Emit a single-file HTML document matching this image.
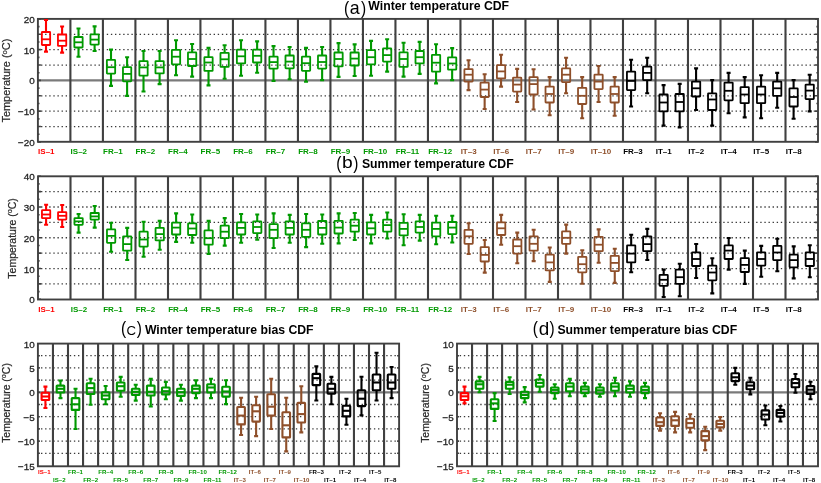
<!DOCTYPE html>
<html><head><meta charset="utf-8"><style>
html,body{margin:0;padding:0;background:#fff;}
body{width:821px;height:483px;overflow:hidden;}
svg{display:block;will-change:transform;}
</style></head><body>
<svg width="821" height="483" viewBox="0 0 821 483" font-family='"Liberation Sans", sans-serif'>
<rect width="821" height="483" fill="#fff"/>
<path d="M41.02 34.28H817.70" stroke="#383838" stroke-width="1.3" stroke-dasharray="1.35 2.76" fill="none"/>
<path d="M41.02 49.65H817.70" stroke="#383838" stroke-width="1.3" stroke-dasharray="1.35 2.76" fill="none"/>
<path d="M41.02 65.03H817.70" stroke="#383838" stroke-width="1.3" stroke-dasharray="1.35 2.76" fill="none"/>
<path d="M41.02 95.78H817.70" stroke="#383838" stroke-width="1.3" stroke-dasharray="1.35 2.76" fill="none"/>
<path d="M41.02 111.15H817.70" stroke="#383838" stroke-width="1.3" stroke-dasharray="1.35 2.76" fill="none"/>
<path d="M41.02 126.53H817.70" stroke="#383838" stroke-width="1.3" stroke-dasharray="1.35 2.76" fill="none"/>
<path d="M37.90 80.40H818.00" stroke="#7a7a7a" stroke-width="2.2"/>
<path d="M37.90 141.90h3M818.00 141.90h-3" stroke="#404040" stroke-width="1.6"/>
<path d="M37.90 126.53h3M818.00 126.53h-3" stroke="#404040" stroke-width="1.6"/>
<path d="M37.90 111.15h3M818.00 111.15h-3" stroke="#404040" stroke-width="1.6"/>
<path d="M37.90 95.78h3M818.00 95.78h-3" stroke="#404040" stroke-width="1.6"/>
<path d="M37.90 80.40h3M818.00 80.40h-3" stroke="#404040" stroke-width="1.6"/>
<path d="M37.90 65.03h3M818.00 65.03h-3" stroke="#404040" stroke-width="1.6"/>
<path d="M37.90 49.65h3M818.00 49.65h-3" stroke="#404040" stroke-width="1.6"/>
<path d="M37.90 34.28h3M818.00 34.28h-3" stroke="#404040" stroke-width="1.6"/>
<path d="M37.90 18.90h3M818.00 18.90h-3" stroke="#404040" stroke-width="1.6"/>
<path d="M37.90 134.21h1.6M818.00 134.21h-1.6" stroke="#404040" stroke-width="1.6"/>
<path d="M37.90 118.84h1.6M818.00 118.84h-1.6" stroke="#404040" stroke-width="1.6"/>
<path d="M37.90 103.46h1.6M818.00 103.46h-1.6" stroke="#404040" stroke-width="1.6"/>
<path d="M37.90 88.09h1.6M818.00 88.09h-1.6" stroke="#404040" stroke-width="1.6"/>
<path d="M37.90 72.71h1.6M818.00 72.71h-1.6" stroke="#404040" stroke-width="1.6"/>
<path d="M37.90 57.34h1.6M818.00 57.34h-1.6" stroke="#404040" stroke-width="1.6"/>
<path d="M37.90 41.96h1.6M818.00 41.96h-1.6" stroke="#404040" stroke-width="1.6"/>
<path d="M37.90 26.59h1.6M818.00 26.59h-1.6" stroke="#404040" stroke-width="1.6"/>
<path d="M70.40 18.90V141.80M102.91 18.90V141.80M135.41 18.90V141.80M167.92 18.90V141.80M200.42 18.90V141.80M232.93 18.90V141.80M265.43 18.90V141.80M297.93 18.90V141.80M330.44 18.90V141.80M362.94 18.90V141.80M395.45 18.90V141.80M427.95 18.90V141.80M460.45 18.90V141.80M492.96 18.90V141.80M525.46 18.90V141.80M557.97 18.90V141.80M590.47 18.90V141.80M622.98 18.90V141.80M655.48 18.90V141.80M687.98 18.90V141.80M720.49 18.90V141.80M752.99 18.90V141.80M785.50 18.90V141.80" stroke="#404040" stroke-width="2.1"/>
<rect x="37.90" y="18.90" width="780.10" height="122.90" fill="none" stroke="#404040" stroke-width="1.9"/>
<path d="M46.00 20.00V32.00M46.00 45.00V51.60" stroke="#ff0000" stroke-width="2.1" fill="none"/>
<path d="M44.00 20.00H48.00M44.00 51.60H48.00" stroke="#ff0000" stroke-width="2.1" fill="none"/>
<rect x="41.85" y="32.00" width="8.30" height="13.00" fill="none" stroke="#ff0000" stroke-width="1.8" stroke-linejoin="round" rx="0.5"/>
<path d="M41.85 39.30H50.15" stroke="#ff0000" stroke-width="1.8"/>
<path d="M62.10 26.50V34.50M62.10 45.90V52.60" stroke="#ff0000" stroke-width="2.1" fill="none"/>
<path d="M60.10 26.50H64.10M60.10 52.60H64.10" stroke="#ff0000" stroke-width="2.1" fill="none"/>
<rect x="57.95" y="34.50" width="8.30" height="11.40" fill="none" stroke="#ff0000" stroke-width="1.8" stroke-linejoin="round" rx="0.5"/>
<path d="M57.95 40.70H66.25" stroke="#ff0000" stroke-width="1.8"/>
<path d="M78.50 28.50V37.00M78.50 47.50V56.70" stroke="#009900" stroke-width="2.1" fill="none"/>
<path d="M76.50 28.50H80.50M76.50 56.70H80.50" stroke="#009900" stroke-width="2.1" fill="none"/>
<rect x="74.35" y="37.00" width="8.30" height="10.50" fill="none" stroke="#009900" stroke-width="1.8" stroke-linejoin="round" rx="0.5"/>
<path d="M74.35 42.30H82.65" stroke="#009900" stroke-width="1.8"/>
<path d="M94.60 26.40V34.30M94.60 44.60V51.00" stroke="#009900" stroke-width="2.1" fill="none"/>
<path d="M92.60 26.40H96.60M92.60 51.00H96.60" stroke="#009900" stroke-width="2.1" fill="none"/>
<rect x="90.45" y="34.30" width="8.30" height="10.30" fill="none" stroke="#009900" stroke-width="1.8" stroke-linejoin="round" rx="0.5"/>
<path d="M90.45 39.60H98.75" stroke="#009900" stroke-width="1.8"/>
<path d="M111.01 49.65V59.90M111.01 73.60V85.90" stroke="#009900" stroke-width="2.1" fill="none"/>
<path d="M109.01 49.65H113.01M109.01 85.90H113.01" stroke="#009900" stroke-width="2.1" fill="none"/>
<rect x="106.86" y="59.90" width="8.30" height="13.70" fill="none" stroke="#009900" stroke-width="1.8" stroke-linejoin="round" rx="0.5"/>
<path d="M106.86 67.20H115.16" stroke="#009900" stroke-width="1.8"/>
<path d="M127.11 57.20V67.20M127.11 81.30V95.90" stroke="#009900" stroke-width="2.1" fill="none"/>
<path d="M125.11 57.20H129.11M125.11 95.90H129.11" stroke="#009900" stroke-width="2.1" fill="none"/>
<rect x="122.96" y="67.20" width="8.30" height="14.10" fill="none" stroke="#009900" stroke-width="1.8" stroke-linejoin="round" rx="0.5"/>
<path d="M122.96 73.90H131.26" stroke="#009900" stroke-width="1.8"/>
<path d="M143.51 51.00V61.10M143.51 75.70V91.50" stroke="#009900" stroke-width="2.1" fill="none"/>
<path d="M141.51 51.00H145.51M141.51 91.50H145.51" stroke="#009900" stroke-width="2.1" fill="none"/>
<rect x="139.36" y="61.10" width="8.30" height="14.60" fill="none" stroke="#009900" stroke-width="1.8" stroke-linejoin="round" rx="0.5"/>
<path d="M139.36 67.40H147.66" stroke="#009900" stroke-width="1.8"/>
<path d="M159.61 51.00V61.10M159.61 73.40V84.10" stroke="#009900" stroke-width="2.1" fill="none"/>
<path d="M157.61 51.00H161.61M157.61 84.10H161.61" stroke="#009900" stroke-width="2.1" fill="none"/>
<rect x="155.46" y="61.10" width="8.30" height="12.30" fill="none" stroke="#009900" stroke-width="1.8" stroke-linejoin="round" rx="0.5"/>
<path d="M155.46 67.40H163.76" stroke="#009900" stroke-width="1.8"/>
<path d="M176.02 40.20V49.80M176.02 64.30V75.30" stroke="#009900" stroke-width="2.1" fill="none"/>
<path d="M174.02 40.20H178.02M174.02 75.30H178.02" stroke="#009900" stroke-width="2.1" fill="none"/>
<rect x="171.87" y="49.80" width="8.30" height="14.50" fill="none" stroke="#009900" stroke-width="1.8" stroke-linejoin="round" rx="0.5"/>
<path d="M171.87 56.70H180.17" stroke="#009900" stroke-width="1.8"/>
<path d="M192.12 44.00V52.30M192.12 66.00V76.60" stroke="#009900" stroke-width="2.1" fill="none"/>
<path d="M190.12 44.00H194.12M190.12 76.60H194.12" stroke="#009900" stroke-width="2.1" fill="none"/>
<rect x="187.97" y="52.30" width="8.30" height="13.70" fill="none" stroke="#009900" stroke-width="1.8" stroke-linejoin="round" rx="0.5"/>
<path d="M187.97 59.00H196.27" stroke="#009900" stroke-width="1.8"/>
<path d="M208.52 47.90V57.20M208.52 70.90V85.40" stroke="#009900" stroke-width="2.1" fill="none"/>
<path d="M206.52 47.90H210.52M206.52 85.40H210.52" stroke="#009900" stroke-width="2.1" fill="none"/>
<rect x="204.37" y="57.20" width="8.30" height="13.70" fill="none" stroke="#009900" stroke-width="1.8" stroke-linejoin="round" rx="0.5"/>
<path d="M204.37 62.50H212.67" stroke="#009900" stroke-width="1.8"/>
<path d="M224.62 45.30V52.80M224.62 66.90V78.70" stroke="#009900" stroke-width="2.1" fill="none"/>
<path d="M222.62 45.30H226.62M222.62 78.70H226.62" stroke="#009900" stroke-width="2.1" fill="none"/>
<rect x="220.47" y="52.80" width="8.30" height="14.10" fill="none" stroke="#009900" stroke-width="1.8" stroke-linejoin="round" rx="0.5"/>
<path d="M220.47 59.30H228.77" stroke="#009900" stroke-width="1.8"/>
<path d="M241.03 40.20V49.65M241.03 63.40V75.70" stroke="#009900" stroke-width="2.1" fill="none"/>
<path d="M239.03 40.20H243.03M239.03 75.70H243.03" stroke="#009900" stroke-width="2.1" fill="none"/>
<rect x="236.88" y="49.65" width="8.30" height="13.75" fill="none" stroke="#009900" stroke-width="1.8" stroke-linejoin="round" rx="0.5"/>
<path d="M236.88 56.30H245.18" stroke="#009900" stroke-width="1.8"/>
<path d="M257.13 41.40V49.65M257.13 62.50V72.70" stroke="#009900" stroke-width="2.1" fill="none"/>
<path d="M255.13 41.40H259.13M255.13 72.70H259.13" stroke="#009900" stroke-width="2.1" fill="none"/>
<rect x="252.98" y="49.65" width="8.30" height="12.85" fill="none" stroke="#009900" stroke-width="1.8" stroke-linejoin="round" rx="0.5"/>
<path d="M252.98 55.80H261.28" stroke="#009900" stroke-width="1.8"/>
<path d="M273.53 46.10V56.70M273.53 68.60V81.00" stroke="#009900" stroke-width="2.1" fill="none"/>
<path d="M271.53 46.10H275.53M271.53 81.00H275.53" stroke="#009900" stroke-width="2.1" fill="none"/>
<rect x="269.38" y="56.70" width="8.30" height="11.90" fill="none" stroke="#009900" stroke-width="1.8" stroke-linejoin="round" rx="0.5"/>
<path d="M269.38 62.10H277.68" stroke="#009900" stroke-width="1.8"/>
<path d="M289.63 47.00V55.50M289.63 68.30V79.20" stroke="#009900" stroke-width="2.1" fill="none"/>
<path d="M287.63 47.00H291.63M287.63 79.20H291.63" stroke="#009900" stroke-width="2.1" fill="none"/>
<rect x="285.48" y="55.50" width="8.30" height="12.80" fill="none" stroke="#009900" stroke-width="1.8" stroke-linejoin="round" rx="0.5"/>
<path d="M285.48 61.60H293.78" stroke="#009900" stroke-width="1.8"/>
<path d="M306.03 47.90V56.70M306.03 70.80V81.80" stroke="#009900" stroke-width="2.1" fill="none"/>
<path d="M304.03 47.90H308.03M304.03 81.80H308.03" stroke="#009900" stroke-width="2.1" fill="none"/>
<rect x="301.88" y="56.70" width="8.30" height="14.10" fill="none" stroke="#009900" stroke-width="1.8" stroke-linejoin="round" rx="0.5"/>
<path d="M301.88 63.20H310.18" stroke="#009900" stroke-width="1.8"/>
<path d="M322.13 47.00V55.50M322.13 68.60V80.10" stroke="#009900" stroke-width="2.1" fill="none"/>
<path d="M320.13 47.00H324.13M320.13 80.10H324.13" stroke="#009900" stroke-width="2.1" fill="none"/>
<rect x="317.98" y="55.50" width="8.30" height="13.10" fill="none" stroke="#009900" stroke-width="1.8" stroke-linejoin="round" rx="0.5"/>
<path d="M317.98 62.00H326.28" stroke="#009900" stroke-width="1.8"/>
<path d="M338.54 43.10V52.50M338.54 66.40V76.90" stroke="#009900" stroke-width="2.1" fill="none"/>
<path d="M336.54 43.10H340.54M336.54 76.90H340.54" stroke="#009900" stroke-width="2.1" fill="none"/>
<rect x="334.39" y="52.50" width="8.30" height="13.90" fill="none" stroke="#009900" stroke-width="1.8" stroke-linejoin="round" rx="0.5"/>
<path d="M334.39 59.00H342.69" stroke="#009900" stroke-width="1.8"/>
<path d="M354.64 44.40V52.50M354.64 65.50V76.00" stroke="#009900" stroke-width="2.1" fill="none"/>
<path d="M352.64 44.40H356.64M352.64 76.00H356.64" stroke="#009900" stroke-width="2.1" fill="none"/>
<rect x="350.49" y="52.50" width="8.30" height="13.00" fill="none" stroke="#009900" stroke-width="1.8" stroke-linejoin="round" rx="0.5"/>
<path d="M350.49 58.60H358.79" stroke="#009900" stroke-width="1.8"/>
<path d="M371.04 40.90V50.20M371.04 64.30V75.70" stroke="#009900" stroke-width="2.1" fill="none"/>
<path d="M369.04 40.90H373.04M369.04 75.70H373.04" stroke="#009900" stroke-width="2.1" fill="none"/>
<rect x="366.89" y="50.20" width="8.30" height="14.10" fill="none" stroke="#009900" stroke-width="1.8" stroke-linejoin="round" rx="0.5"/>
<path d="M366.89 57.20H375.19" stroke="#009900" stroke-width="1.8"/>
<path d="M387.14 39.30V48.40M387.14 61.60V71.60" stroke="#009900" stroke-width="2.1" fill="none"/>
<path d="M385.14 39.30H389.14M385.14 71.60H389.14" stroke="#009900" stroke-width="2.1" fill="none"/>
<rect x="382.99" y="48.40" width="8.30" height="13.20" fill="none" stroke="#009900" stroke-width="1.8" stroke-linejoin="round" rx="0.5"/>
<path d="M382.99 55.10H391.29" stroke="#009900" stroke-width="1.8"/>
<path d="M403.55 42.80V52.30M403.55 66.90V76.60" stroke="#009900" stroke-width="2.1" fill="none"/>
<path d="M401.55 42.80H405.55M401.55 76.60H405.55" stroke="#009900" stroke-width="2.1" fill="none"/>
<rect x="399.40" y="52.30" width="8.30" height="14.60" fill="none" stroke="#009900" stroke-width="1.8" stroke-linejoin="round" rx="0.5"/>
<path d="M399.40 59.00H407.70" stroke="#009900" stroke-width="1.8"/>
<path d="M419.65 41.90V51.00M419.65 63.40V73.90" stroke="#009900" stroke-width="2.1" fill="none"/>
<path d="M417.65 41.90H421.65M417.65 73.90H421.65" stroke="#009900" stroke-width="2.1" fill="none"/>
<rect x="415.50" y="51.00" width="8.30" height="12.40" fill="none" stroke="#009900" stroke-width="1.8" stroke-linejoin="round" rx="0.5"/>
<path d="M415.50 57.20H423.80" stroke="#009900" stroke-width="1.8"/>
<path d="M436.05 44.30V54.80M436.05 71.70V83.40" stroke="#009900" stroke-width="2.1" fill="none"/>
<path d="M434.05 44.30H438.05M434.05 83.40H438.05" stroke="#009900" stroke-width="2.1" fill="none"/>
<rect x="431.90" y="54.80" width="8.30" height="16.90" fill="none" stroke="#009900" stroke-width="1.8" stroke-linejoin="round" rx="0.5"/>
<path d="M431.90 62.70H440.20" stroke="#009900" stroke-width="1.8"/>
<path d="M452.15 48.10V57.30M452.15 69.70V80.10" stroke="#009900" stroke-width="2.1" fill="none"/>
<path d="M450.15 48.10H454.15M450.15 80.10H454.15" stroke="#009900" stroke-width="2.1" fill="none"/>
<rect x="448.00" y="57.30" width="8.30" height="12.40" fill="none" stroke="#009900" stroke-width="1.8" stroke-linejoin="round" rx="0.5"/>
<path d="M448.00 63.50H456.30" stroke="#009900" stroke-width="1.8"/>
<path d="M468.55 60.20V69.20M468.55 81.60V90.10" stroke="#8e4f2a" stroke-width="2.1" fill="none"/>
<path d="M466.55 60.20H470.55M466.55 90.10H470.55" stroke="#8e4f2a" stroke-width="2.1" fill="none"/>
<rect x="464.40" y="69.20" width="8.30" height="12.40" fill="none" stroke="#8e4f2a" stroke-width="1.8" stroke-linejoin="round" rx="0.5"/>
<path d="M464.40 74.70H472.70" stroke="#8e4f2a" stroke-width="1.8"/>
<path d="M484.65 74.20V82.60M484.65 97.00V109.00" stroke="#8e4f2a" stroke-width="2.1" fill="none"/>
<path d="M482.65 74.20H486.65M482.65 109.00H486.65" stroke="#8e4f2a" stroke-width="2.1" fill="none"/>
<rect x="480.50" y="82.60" width="8.30" height="14.40" fill="none" stroke="#8e4f2a" stroke-width="1.8" stroke-linejoin="round" rx="0.5"/>
<path d="M480.50 89.60H488.80" stroke="#8e4f2a" stroke-width="1.8"/>
<path d="M501.06 54.80V65.20M501.06 78.40V86.60" stroke="#8e4f2a" stroke-width="2.1" fill="none"/>
<path d="M499.06 54.80H503.06M499.06 86.60H503.06" stroke="#8e4f2a" stroke-width="2.1" fill="none"/>
<rect x="496.91" y="65.20" width="8.30" height="13.20" fill="none" stroke="#8e4f2a" stroke-width="1.8" stroke-linejoin="round" rx="0.5"/>
<path d="M496.91 71.40H505.21" stroke="#8e4f2a" stroke-width="1.8"/>
<path d="M517.16 68.90V77.60M517.16 91.60V102.00" stroke="#8e4f2a" stroke-width="2.1" fill="none"/>
<path d="M515.16 68.90H519.16M515.16 102.00H519.16" stroke="#8e4f2a" stroke-width="2.1" fill="none"/>
<rect x="513.01" y="77.60" width="8.30" height="14.00" fill="none" stroke="#8e4f2a" stroke-width="1.8" stroke-linejoin="round" rx="0.5"/>
<path d="M513.01 84.60H521.31" stroke="#8e4f2a" stroke-width="1.8"/>
<path d="M533.56 69.20V77.10M533.56 94.50V109.50" stroke="#8e4f2a" stroke-width="2.1" fill="none"/>
<path d="M531.56 69.20H535.56M531.56 109.50H535.56" stroke="#8e4f2a" stroke-width="2.1" fill="none"/>
<rect x="529.41" y="77.10" width="8.30" height="17.40" fill="none" stroke="#8e4f2a" stroke-width="1.8" stroke-linejoin="round" rx="0.5"/>
<path d="M529.41 84.10H537.71" stroke="#8e4f2a" stroke-width="1.8"/>
<path d="M549.66 77.10V86.60M549.66 102.50V115.20" stroke="#8e4f2a" stroke-width="2.1" fill="none"/>
<path d="M547.66 77.10H551.66M547.66 115.20H551.66" stroke="#8e4f2a" stroke-width="2.1" fill="none"/>
<rect x="545.51" y="86.60" width="8.30" height="15.90" fill="none" stroke="#8e4f2a" stroke-width="1.8" stroke-linejoin="round" rx="0.5"/>
<path d="M545.51 94.00H553.81" stroke="#8e4f2a" stroke-width="1.8"/>
<path d="M566.07 57.80V68.40M566.07 82.10V93.30" stroke="#8e4f2a" stroke-width="2.1" fill="none"/>
<path d="M564.07 57.80H568.07M564.07 93.30H568.07" stroke="#8e4f2a" stroke-width="2.1" fill="none"/>
<rect x="561.92" y="68.40" width="8.30" height="13.70" fill="none" stroke="#8e4f2a" stroke-width="1.8" stroke-linejoin="round" rx="0.5"/>
<path d="M561.92 74.70H570.22" stroke="#8e4f2a" stroke-width="1.8"/>
<path d="M582.17 77.10V87.80M582.17 104.00V118.20" stroke="#8e4f2a" stroke-width="2.1" fill="none"/>
<path d="M580.17 77.10H584.17M580.17 118.20H584.17" stroke="#8e4f2a" stroke-width="2.1" fill="none"/>
<rect x="578.02" y="87.80" width="8.30" height="16.20" fill="none" stroke="#8e4f2a" stroke-width="1.8" stroke-linejoin="round" rx="0.5"/>
<path d="M578.02 95.80H586.32" stroke="#8e4f2a" stroke-width="1.8"/>
<path d="M598.57 66.00V74.70M598.57 89.10V102.00" stroke="#8e4f2a" stroke-width="2.1" fill="none"/>
<path d="M596.57 66.00H600.57M596.57 102.00H600.57" stroke="#8e4f2a" stroke-width="2.1" fill="none"/>
<rect x="594.42" y="74.70" width="8.30" height="14.40" fill="none" stroke="#8e4f2a" stroke-width="1.8" stroke-linejoin="round" rx="0.5"/>
<path d="M594.42 81.60H602.72" stroke="#8e4f2a" stroke-width="1.8"/>
<path d="M614.67 77.10V86.60M614.67 102.50V115.70" stroke="#8e4f2a" stroke-width="2.1" fill="none"/>
<path d="M612.67 77.10H616.67M612.67 115.70H616.67" stroke="#8e4f2a" stroke-width="2.1" fill="none"/>
<rect x="610.52" y="86.60" width="8.30" height="15.90" fill="none" stroke="#8e4f2a" stroke-width="1.8" stroke-linejoin="round" rx="0.5"/>
<path d="M610.52 94.00H618.82" stroke="#8e4f2a" stroke-width="1.8"/>
<path d="M631.08 59.70V71.70M631.08 90.10V106.50" stroke="#000000" stroke-width="2.1" fill="none"/>
<path d="M629.08 59.70H633.08M629.08 106.50H633.08" stroke="#000000" stroke-width="2.1" fill="none"/>
<rect x="626.93" y="71.70" width="8.30" height="18.40" fill="none" stroke="#000000" stroke-width="1.8" stroke-linejoin="round" rx="0.5"/>
<path d="M626.93 80.90H635.23" stroke="#000000" stroke-width="1.8"/>
<path d="M647.18 57.80V66.70M647.18 80.10V93.30" stroke="#000000" stroke-width="2.1" fill="none"/>
<path d="M645.18 57.80H649.18M645.18 93.30H649.18" stroke="#000000" stroke-width="2.1" fill="none"/>
<rect x="643.03" y="66.70" width="8.30" height="13.40" fill="none" stroke="#000000" stroke-width="1.8" stroke-linejoin="round" rx="0.5"/>
<path d="M643.03 72.90H651.33" stroke="#000000" stroke-width="1.8"/>
<path d="M663.58 85.10V94.50M663.58 111.40V125.60" stroke="#000000" stroke-width="2.1" fill="none"/>
<path d="M661.58 85.10H665.58M661.58 125.60H665.58" stroke="#000000" stroke-width="2.1" fill="none"/>
<rect x="659.43" y="94.50" width="8.30" height="16.90" fill="none" stroke="#000000" stroke-width="1.8" stroke-linejoin="round" rx="0.5"/>
<path d="M659.43 102.50H667.73" stroke="#000000" stroke-width="1.8"/>
<path d="M679.68 83.90V94.00M679.68 111.40V127.40" stroke="#000000" stroke-width="2.1" fill="none"/>
<path d="M677.68 83.90H681.68M677.68 127.40H681.68" stroke="#000000" stroke-width="2.1" fill="none"/>
<rect x="675.53" y="94.00" width="8.30" height="17.40" fill="none" stroke="#000000" stroke-width="1.8" stroke-linejoin="round" rx="0.5"/>
<path d="M675.53 102.00H683.83" stroke="#000000" stroke-width="1.8"/>
<path d="M696.08 68.40V81.60M696.08 96.50V110.00" stroke="#000000" stroke-width="2.1" fill="none"/>
<path d="M694.08 68.40H698.08M694.08 110.00H698.08" stroke="#000000" stroke-width="2.1" fill="none"/>
<rect x="691.93" y="81.60" width="8.30" height="14.90" fill="none" stroke="#000000" stroke-width="1.8" stroke-linejoin="round" rx="0.5"/>
<path d="M691.93 88.30H700.23" stroke="#000000" stroke-width="1.8"/>
<path d="M712.18 80.10V93.30M712.18 110.00V125.60" stroke="#000000" stroke-width="2.1" fill="none"/>
<path d="M710.18 80.10H714.18M710.18 125.60H714.18" stroke="#000000" stroke-width="2.1" fill="none"/>
<rect x="708.03" y="93.30" width="8.30" height="16.70" fill="none" stroke="#000000" stroke-width="1.8" stroke-linejoin="round" rx="0.5"/>
<path d="M708.03 99.50H716.33" stroke="#000000" stroke-width="1.8"/>
<path d="M728.59 72.90V82.60M728.59 100.30V113.20" stroke="#000000" stroke-width="2.1" fill="none"/>
<path d="M726.59 72.90H730.59M726.59 113.20H730.59" stroke="#000000" stroke-width="2.1" fill="none"/>
<rect x="724.44" y="82.60" width="8.30" height="17.70" fill="none" stroke="#000000" stroke-width="1.8" stroke-linejoin="round" rx="0.5"/>
<path d="M724.44 90.80H732.74" stroke="#000000" stroke-width="1.8"/>
<path d="M744.69 77.10V87.10M744.69 103.20V117.40" stroke="#000000" stroke-width="2.1" fill="none"/>
<path d="M742.69 77.10H746.69M742.69 117.40H746.69" stroke="#000000" stroke-width="2.1" fill="none"/>
<rect x="740.54" y="87.10" width="8.30" height="16.10" fill="none" stroke="#000000" stroke-width="1.8" stroke-linejoin="round" rx="0.5"/>
<path d="M740.54 94.50H748.84" stroke="#000000" stroke-width="1.8"/>
<path d="M761.09 75.20V86.60M761.09 103.20V118.20" stroke="#000000" stroke-width="2.1" fill="none"/>
<path d="M759.09 75.20H763.09M759.09 118.20H763.09" stroke="#000000" stroke-width="2.1" fill="none"/>
<rect x="756.94" y="86.60" width="8.30" height="16.60" fill="none" stroke="#000000" stroke-width="1.8" stroke-linejoin="round" rx="0.5"/>
<path d="M756.94 94.50H765.24" stroke="#000000" stroke-width="1.8"/>
<path d="M777.19 72.90V81.60M777.19 95.80V107.70" stroke="#000000" stroke-width="2.1" fill="none"/>
<path d="M775.19 72.90H779.19M775.19 107.70H779.19" stroke="#000000" stroke-width="2.1" fill="none"/>
<rect x="773.04" y="81.60" width="8.30" height="14.20" fill="none" stroke="#000000" stroke-width="1.8" stroke-linejoin="round" rx="0.5"/>
<path d="M773.04 88.30H781.34" stroke="#000000" stroke-width="1.8"/>
<path d="M793.60 80.10V88.30M793.60 106.50V118.70" stroke="#000000" stroke-width="2.1" fill="none"/>
<path d="M791.60 80.10H795.60M791.60 118.70H795.60" stroke="#000000" stroke-width="2.1" fill="none"/>
<rect x="789.45" y="88.30" width="8.30" height="18.20" fill="none" stroke="#000000" stroke-width="1.8" stroke-linejoin="round" rx="0.5"/>
<path d="M789.45 97.00H797.75" stroke="#000000" stroke-width="1.8"/>
<path d="M809.70 74.70V84.60M809.70 99.10V111.40" stroke="#000000" stroke-width="2.1" fill="none"/>
<path d="M807.70 74.70H811.70M807.70 111.40H811.70" stroke="#000000" stroke-width="2.1" fill="none"/>
<rect x="805.55" y="84.60" width="8.30" height="14.50" fill="none" stroke="#000000" stroke-width="1.8" stroke-linejoin="round" rx="0.5"/>
<path d="M805.55 90.60H813.85" stroke="#000000" stroke-width="1.8"/>
<text x="34.80" y="22.90" text-anchor="end" font-size="9.9" fill="#262626" stroke="#262626" stroke-width="0.3">20</text>
<text x="34.80" y="53.65" text-anchor="end" font-size="9.9" fill="#262626" stroke="#262626" stroke-width="0.3">10</text>
<text x="34.80" y="84.40" text-anchor="end" font-size="9.9" fill="#262626" stroke="#262626" stroke-width="0.3">0</text>
<text x="34.80" y="115.15" text-anchor="end" font-size="9.9" fill="#262626" stroke="#262626" stroke-width="0.3">−10</text>
<text x="34.80" y="145.90" text-anchor="end" font-size="9.9" fill="#262626" stroke="#262626" stroke-width="0.3">−20</text>
<text transform="translate(10.30 80.60) rotate(-90)" text-anchor="middle" font-size="10.95" fill="#2a2a2a" stroke="#2a2a2a" stroke-width="0.22">Temperature (<tspan font-size="7.66" dy="-3.5">o</tspan><tspan dy="3.5">C)</tspan></text>
<text x="368.3" y="10.0" font-size="12.25" font-weight="bold" fill="#000">Winter temperature CDF</text>
<text x="38.10" y="154.1" font-size="8.0" font-weight="bold" fill="#ff0000">IS–1</text>
<text x="70.60" y="154.1" font-size="8.0" font-weight="bold" fill="#009900">IS–2</text>
<text x="103.11" y="154.1" font-size="8.0" font-weight="bold" fill="#009900">FR–1</text>
<text x="135.61" y="154.1" font-size="8.0" font-weight="bold" fill="#009900">FR–2</text>
<text x="168.12" y="154.1" font-size="8.0" font-weight="bold" fill="#009900">FR–4</text>
<text x="200.62" y="154.1" font-size="8.0" font-weight="bold" fill="#009900">FR–5</text>
<text x="233.13" y="154.1" font-size="8.0" font-weight="bold" fill="#009900">FR–6</text>
<text x="265.63" y="154.1" font-size="8.0" font-weight="bold" fill="#009900">FR–7</text>
<text x="298.13" y="154.1" font-size="8.0" font-weight="bold" fill="#009900">FR–8</text>
<text x="330.64" y="154.1" font-size="8.0" font-weight="bold" fill="#009900">FR–9</text>
<text x="363.14" y="154.1" font-size="8.0" font-weight="bold" fill="#009900">FR–10</text>
<text x="395.65" y="154.1" font-size="8.0" font-weight="bold" fill="#009900">FR–11</text>
<text x="428.15" y="154.1" font-size="8.0" font-weight="bold" fill="#009900">FR–12</text>
<text x="460.65" y="154.1" font-size="8.0" font-weight="bold" fill="#8e4f2a">IT–3</text>
<text x="493.16" y="154.1" font-size="8.0" font-weight="bold" fill="#8e4f2a">IT–6</text>
<text x="525.66" y="154.1" font-size="8.0" font-weight="bold" fill="#8e4f2a">IT–7</text>
<text x="558.17" y="154.1" font-size="8.0" font-weight="bold" fill="#8e4f2a">IT–9</text>
<text x="590.67" y="154.1" font-size="8.0" font-weight="bold" fill="#8e4f2a">IT–10</text>
<text x="623.18" y="154.1" font-size="8.0" font-weight="bold" fill="#000">FR–3</text>
<text x="655.68" y="154.1" font-size="8.0" font-weight="bold" fill="#000">IT–1</text>
<text x="688.18" y="154.1" font-size="8.0" font-weight="bold" fill="#000">IT–2</text>
<text x="720.69" y="154.1" font-size="8.0" font-weight="bold" fill="#000">IT–4</text>
<text x="753.19" y="154.1" font-size="8.0" font-weight="bold" fill="#000">IT–5</text>
<text x="785.70" y="154.1" font-size="8.0" font-weight="bold" fill="#000">IT–8</text>
<path d="M41.02 283.92H817.70" stroke="#383838" stroke-width="1.3" stroke-dasharray="1.35 2.76" fill="none"/>
<path d="M41.02 268.53H817.70" stroke="#383838" stroke-width="1.3" stroke-dasharray="1.35 2.76" fill="none"/>
<path d="M41.02 253.15H817.70" stroke="#383838" stroke-width="1.3" stroke-dasharray="1.35 2.76" fill="none"/>
<path d="M41.02 237.76H817.70" stroke="#383838" stroke-width="1.3" stroke-dasharray="1.35 2.76" fill="none"/>
<path d="M41.02 222.38H817.70" stroke="#383838" stroke-width="1.3" stroke-dasharray="1.35 2.76" fill="none"/>
<path d="M41.02 206.99H817.70" stroke="#383838" stroke-width="1.3" stroke-dasharray="1.35 2.76" fill="none"/>
<path d="M41.02 191.61H817.70" stroke="#383838" stroke-width="1.3" stroke-dasharray="1.35 2.76" fill="none"/>
<path d="M38.00 299.30h3M818.00 299.30h-3" stroke="#404040" stroke-width="1.6"/>
<path d="M38.00 283.92h3M818.00 283.92h-3" stroke="#404040" stroke-width="1.6"/>
<path d="M38.00 268.53h3M818.00 268.53h-3" stroke="#404040" stroke-width="1.6"/>
<path d="M38.00 253.15h3M818.00 253.15h-3" stroke="#404040" stroke-width="1.6"/>
<path d="M38.00 237.76h3M818.00 237.76h-3" stroke="#404040" stroke-width="1.6"/>
<path d="M38.00 222.38h3M818.00 222.38h-3" stroke="#404040" stroke-width="1.6"/>
<path d="M38.00 206.99h3M818.00 206.99h-3" stroke="#404040" stroke-width="1.6"/>
<path d="M38.00 191.61h3M818.00 191.61h-3" stroke="#404040" stroke-width="1.6"/>
<path d="M38.00 176.22h3M818.00 176.22h-3" stroke="#404040" stroke-width="1.6"/>
<path d="M38.00 291.61h1.6M818.00 291.61h-1.6" stroke="#404040" stroke-width="1.6"/>
<path d="M38.00 276.22h1.6M818.00 276.22h-1.6" stroke="#404040" stroke-width="1.6"/>
<path d="M38.00 260.84h1.6M818.00 260.84h-1.6" stroke="#404040" stroke-width="1.6"/>
<path d="M38.00 245.45h1.6M818.00 245.45h-1.6" stroke="#404040" stroke-width="1.6"/>
<path d="M38.00 230.07h1.6M818.00 230.07h-1.6" stroke="#404040" stroke-width="1.6"/>
<path d="M38.00 214.68h1.6M818.00 214.68h-1.6" stroke="#404040" stroke-width="1.6"/>
<path d="M38.00 199.30h1.6M818.00 199.30h-1.6" stroke="#404040" stroke-width="1.6"/>
<path d="M38.00 183.91h1.6M818.00 183.91h-1.6" stroke="#404040" stroke-width="1.6"/>
<path d="M70.50 176.30V299.50M103.00 176.30V299.50M135.50 176.30V299.50M168.00 176.30V299.50M200.50 176.30V299.50M233.00 176.30V299.50M265.50 176.30V299.50M298.00 176.30V299.50M330.50 176.30V299.50M363.00 176.30V299.50M395.50 176.30V299.50M428.00 176.30V299.50M460.50 176.30V299.50M493.00 176.30V299.50M525.50 176.30V299.50M558.00 176.30V299.50M590.50 176.30V299.50M623.00 176.30V299.50M655.50 176.30V299.50M688.00 176.30V299.50M720.50 176.30V299.50M753.00 176.30V299.50M785.50 176.30V299.50" stroke="#404040" stroke-width="2.1"/>
<rect x="38.00" y="176.30" width="780.00" height="123.20" fill="none" stroke="#404040" stroke-width="1.9"/>
<path d="M46.10 204.70V210.20M46.10 218.20V224.80" stroke="#ff0000" stroke-width="2.1" fill="none"/>
<path d="M44.10 204.70H48.10M44.10 224.80H48.10" stroke="#ff0000" stroke-width="2.1" fill="none"/>
<rect x="41.95" y="210.20" width="8.30" height="8.00" fill="none" stroke="#ff0000" stroke-width="1.8" stroke-linejoin="round" rx="0.5"/>
<path d="M41.95 214.50H50.25" stroke="#ff0000" stroke-width="1.8"/>
<path d="M62.20 205.00V212.10M62.20 219.60V227.00" stroke="#ff0000" stroke-width="2.1" fill="none"/>
<path d="M60.20 205.00H64.20M60.20 227.00H64.20" stroke="#ff0000" stroke-width="2.1" fill="none"/>
<rect x="58.05" y="212.10" width="8.30" height="7.50" fill="none" stroke="#ff0000" stroke-width="1.8" stroke-linejoin="round" rx="0.5"/>
<path d="M58.05 215.80H66.35" stroke="#ff0000" stroke-width="1.8"/>
<path d="M78.60 214.00V218.10M78.60 224.80V232.60" stroke="#009900" stroke-width="2.1" fill="none"/>
<path d="M76.60 214.00H80.60M76.60 232.60H80.60" stroke="#009900" stroke-width="2.1" fill="none"/>
<rect x="74.45" y="218.10" width="8.30" height="6.70" fill="none" stroke="#009900" stroke-width="1.8" stroke-linejoin="round" rx="0.5"/>
<path d="M74.45 221.40H82.75" stroke="#009900" stroke-width="1.8"/>
<path d="M94.70 206.00V213.00M94.70 219.60V227.60" stroke="#009900" stroke-width="2.1" fill="none"/>
<path d="M92.70 206.00H96.70M92.70 227.60H96.70" stroke="#009900" stroke-width="2.1" fill="none"/>
<rect x="90.55" y="213.00" width="8.30" height="6.60" fill="none" stroke="#009900" stroke-width="1.8" stroke-linejoin="round" rx="0.5"/>
<path d="M90.55 216.40H98.85" stroke="#009900" stroke-width="1.8"/>
<path d="M111.11 222.70V229.40M111.11 242.80V251.80" stroke="#009900" stroke-width="2.1" fill="none"/>
<path d="M109.11 222.70H113.11M109.11 251.80H113.11" stroke="#009900" stroke-width="2.1" fill="none"/>
<rect x="106.96" y="229.40" width="8.30" height="13.40" fill="none" stroke="#009900" stroke-width="1.8" stroke-linejoin="round" rx="0.5"/>
<path d="M106.96 235.90H115.26" stroke="#009900" stroke-width="1.8"/>
<path d="M127.21 227.90V236.30M127.21 250.70V260.00" stroke="#009900" stroke-width="2.1" fill="none"/>
<path d="M125.21 227.90H129.21M125.21 260.00H129.21" stroke="#009900" stroke-width="2.1" fill="none"/>
<rect x="123.06" y="236.30" width="8.30" height="14.40" fill="none" stroke="#009900" stroke-width="1.8" stroke-linejoin="round" rx="0.5"/>
<path d="M123.06 244.10H131.36" stroke="#009900" stroke-width="1.8"/>
<path d="M143.61 221.80V231.70M143.61 246.60V256.80" stroke="#009900" stroke-width="2.1" fill="none"/>
<path d="M141.61 221.80H145.61M141.61 256.80H145.61" stroke="#009900" stroke-width="2.1" fill="none"/>
<rect x="139.46" y="231.70" width="8.30" height="14.90" fill="none" stroke="#009900" stroke-width="1.8" stroke-linejoin="round" rx="0.5"/>
<path d="M139.46 239.50H147.76" stroke="#009900" stroke-width="1.8"/>
<path d="M159.71 220.90V227.90M159.71 240.40V249.70" stroke="#009900" stroke-width="2.1" fill="none"/>
<path d="M157.71 220.90H161.71M157.71 249.70H161.71" stroke="#009900" stroke-width="2.1" fill="none"/>
<rect x="155.56" y="227.90" width="8.30" height="12.50" fill="none" stroke="#009900" stroke-width="1.8" stroke-linejoin="round" rx="0.5"/>
<path d="M155.56 234.10H163.86" stroke="#009900" stroke-width="1.8"/>
<path d="M176.12 213.40V222.70M176.12 234.50V241.90" stroke="#009900" stroke-width="2.1" fill="none"/>
<path d="M174.12 213.40H178.12M174.12 241.90H178.12" stroke="#009900" stroke-width="2.1" fill="none"/>
<rect x="171.97" y="222.70" width="8.30" height="11.80" fill="none" stroke="#009900" stroke-width="1.8" stroke-linejoin="round" rx="0.5"/>
<path d="M171.97 227.60H180.27" stroke="#009900" stroke-width="1.8"/>
<path d="M192.22 214.50V223.30M192.22 235.00V242.80" stroke="#009900" stroke-width="2.1" fill="none"/>
<path d="M190.22 214.50H194.22M190.22 242.80H194.22" stroke="#009900" stroke-width="2.1" fill="none"/>
<rect x="188.07" y="223.30" width="8.30" height="11.70" fill="none" stroke="#009900" stroke-width="1.8" stroke-linejoin="round" rx="0.5"/>
<path d="M188.07 228.50H196.37" stroke="#009900" stroke-width="1.8"/>
<path d="M208.62 220.90V230.40M208.62 244.70V254.00" stroke="#009900" stroke-width="2.1" fill="none"/>
<path d="M206.62 220.90H210.62M206.62 254.00H210.62" stroke="#009900" stroke-width="2.1" fill="none"/>
<rect x="204.47" y="230.40" width="8.30" height="14.30" fill="none" stroke="#009900" stroke-width="1.8" stroke-linejoin="round" rx="0.5"/>
<path d="M204.47 238.20H212.77" stroke="#009900" stroke-width="1.8"/>
<path d="M224.72 218.10V225.70M224.72 238.20V245.60" stroke="#009900" stroke-width="2.1" fill="none"/>
<path d="M222.72 218.10H226.72M222.72 245.60H226.72" stroke="#009900" stroke-width="2.1" fill="none"/>
<rect x="220.57" y="225.70" width="8.30" height="12.50" fill="none" stroke="#009900" stroke-width="1.8" stroke-linejoin="round" rx="0.5"/>
<path d="M220.57 231.70H228.87" stroke="#009900" stroke-width="1.8"/>
<path d="M241.13 214.00V222.30M241.13 234.50V242.80" stroke="#009900" stroke-width="2.1" fill="none"/>
<path d="M239.13 214.00H243.13M239.13 242.80H243.13" stroke="#009900" stroke-width="2.1" fill="none"/>
<rect x="236.98" y="222.30" width="8.30" height="12.20" fill="none" stroke="#009900" stroke-width="1.8" stroke-linejoin="round" rx="0.5"/>
<path d="M236.98 227.90H245.28" stroke="#009900" stroke-width="1.8"/>
<path d="M257.23 214.50V221.40M257.23 233.10V239.70" stroke="#009900" stroke-width="2.1" fill="none"/>
<path d="M255.23 214.50H259.23M255.23 239.70H259.23" stroke="#009900" stroke-width="2.1" fill="none"/>
<rect x="253.08" y="221.40" width="8.30" height="11.70" fill="none" stroke="#009900" stroke-width="1.8" stroke-linejoin="round" rx="0.5"/>
<path d="M253.08 227.00H261.38" stroke="#009900" stroke-width="1.8"/>
<path d="M273.63 213.40V224.20M273.63 238.20V248.00" stroke="#009900" stroke-width="2.1" fill="none"/>
<path d="M271.63 213.40H275.63M271.63 248.00H275.63" stroke="#009900" stroke-width="2.1" fill="none"/>
<rect x="269.48" y="224.20" width="8.30" height="14.00" fill="none" stroke="#009900" stroke-width="1.8" stroke-linejoin="round" rx="0.5"/>
<path d="M269.48 229.80H277.78" stroke="#009900" stroke-width="1.8"/>
<path d="M289.73 214.90V221.40M289.73 234.50V242.80" stroke="#009900" stroke-width="2.1" fill="none"/>
<path d="M287.73 214.90H291.73M287.73 242.80H291.73" stroke="#009900" stroke-width="2.1" fill="none"/>
<rect x="285.58" y="221.40" width="8.30" height="13.10" fill="none" stroke="#009900" stroke-width="1.8" stroke-linejoin="round" rx="0.5"/>
<path d="M285.58 227.90H293.88" stroke="#009900" stroke-width="1.8"/>
<path d="M306.13 214.00V223.30M306.13 236.90V247.10" stroke="#009900" stroke-width="2.1" fill="none"/>
<path d="M304.13 214.00H308.13M304.13 247.10H308.13" stroke="#009900" stroke-width="2.1" fill="none"/>
<rect x="301.98" y="223.30" width="8.30" height="13.60" fill="none" stroke="#009900" stroke-width="1.8" stroke-linejoin="round" rx="0.5"/>
<path d="M301.98 229.80H310.28" stroke="#009900" stroke-width="1.8"/>
<path d="M322.23 214.50V221.00M322.23 234.50V243.80" stroke="#009900" stroke-width="2.1" fill="none"/>
<path d="M320.23 214.50H324.23M320.23 243.80H324.23" stroke="#009900" stroke-width="2.1" fill="none"/>
<rect x="318.08" y="221.00" width="8.30" height="13.50" fill="none" stroke="#009900" stroke-width="1.8" stroke-linejoin="round" rx="0.5"/>
<path d="M318.08 227.90H326.38" stroke="#009900" stroke-width="1.8"/>
<path d="M338.64 213.40V220.90M338.64 233.50V243.40" stroke="#009900" stroke-width="2.1" fill="none"/>
<path d="M336.64 213.40H340.64M336.64 243.40H340.64" stroke="#009900" stroke-width="2.1" fill="none"/>
<rect x="334.49" y="220.90" width="8.30" height="12.60" fill="none" stroke="#009900" stroke-width="1.8" stroke-linejoin="round" rx="0.5"/>
<path d="M334.49 227.60H342.79" stroke="#009900" stroke-width="1.8"/>
<path d="M354.74 213.00V219.60M354.74 231.70V240.00" stroke="#009900" stroke-width="2.1" fill="none"/>
<path d="M352.74 213.00H356.74M352.74 240.00H356.74" stroke="#009900" stroke-width="2.1" fill="none"/>
<rect x="350.59" y="219.60" width="8.30" height="12.10" fill="none" stroke="#009900" stroke-width="1.8" stroke-linejoin="round" rx="0.5"/>
<path d="M350.59 225.70H358.89" stroke="#009900" stroke-width="1.8"/>
<path d="M371.14 214.90V222.30M371.14 234.50V243.40" stroke="#009900" stroke-width="2.1" fill="none"/>
<path d="M369.14 214.90H373.14M369.14 243.40H373.14" stroke="#009900" stroke-width="2.1" fill="none"/>
<rect x="366.99" y="222.30" width="8.30" height="12.20" fill="none" stroke="#009900" stroke-width="1.8" stroke-linejoin="round" rx="0.5"/>
<path d="M366.99 228.30H375.29" stroke="#009900" stroke-width="1.8"/>
<path d="M387.24 212.50V219.60M387.24 231.70V238.50" stroke="#009900" stroke-width="2.1" fill="none"/>
<path d="M385.24 212.50H389.24M385.24 238.50H389.24" stroke="#009900" stroke-width="2.1" fill="none"/>
<rect x="383.09" y="219.60" width="8.30" height="12.10" fill="none" stroke="#009900" stroke-width="1.8" stroke-linejoin="round" rx="0.5"/>
<path d="M383.09 225.10H391.39" stroke="#009900" stroke-width="1.8"/>
<path d="M403.65 214.30V222.90M403.65 235.40V245.30" stroke="#009900" stroke-width="2.1" fill="none"/>
<path d="M401.65 214.30H405.65M401.65 245.30H405.65" stroke="#009900" stroke-width="2.1" fill="none"/>
<rect x="399.50" y="222.90" width="8.30" height="12.50" fill="none" stroke="#009900" stroke-width="1.8" stroke-linejoin="round" rx="0.5"/>
<path d="M399.50 228.90H407.80" stroke="#009900" stroke-width="1.8"/>
<path d="M419.75 214.90V221.40M419.75 232.60V240.60" stroke="#009900" stroke-width="2.1" fill="none"/>
<path d="M417.75 214.90H421.75M417.75 240.60H421.75" stroke="#009900" stroke-width="2.1" fill="none"/>
<rect x="415.60" y="221.40" width="8.30" height="11.20" fill="none" stroke="#009900" stroke-width="1.8" stroke-linejoin="round" rx="0.5"/>
<path d="M415.60 227.00H423.90" stroke="#009900" stroke-width="1.8"/>
<path d="M436.15 215.80V222.70M436.15 236.30V244.30" stroke="#009900" stroke-width="2.1" fill="none"/>
<path d="M434.15 215.80H438.15M434.15 244.30H438.15" stroke="#009900" stroke-width="2.1" fill="none"/>
<rect x="432.00" y="222.70" width="8.30" height="13.60" fill="none" stroke="#009900" stroke-width="1.8" stroke-linejoin="round" rx="0.5"/>
<path d="M432.00 228.90H440.30" stroke="#009900" stroke-width="1.8"/>
<path d="M452.25 215.80V222.00M452.25 234.10V242.50" stroke="#009900" stroke-width="2.1" fill="none"/>
<path d="M450.25 215.80H454.25M450.25 242.50H454.25" stroke="#009900" stroke-width="2.1" fill="none"/>
<rect x="448.10" y="222.00" width="8.30" height="12.10" fill="none" stroke="#009900" stroke-width="1.8" stroke-linejoin="round" rx="0.5"/>
<path d="M448.10 227.60H456.40" stroke="#009900" stroke-width="1.8"/>
<path d="M468.65 223.30V229.80M468.65 243.80V254.00" stroke="#8e4f2a" stroke-width="2.1" fill="none"/>
<path d="M466.65 223.30H470.65M466.65 254.00H470.65" stroke="#8e4f2a" stroke-width="2.1" fill="none"/>
<rect x="464.50" y="229.80" width="8.30" height="14.00" fill="none" stroke="#8e4f2a" stroke-width="1.8" stroke-linejoin="round" rx="0.5"/>
<path d="M464.50 236.30H472.80" stroke="#8e4f2a" stroke-width="1.8"/>
<path d="M484.75 240.00V247.10M484.75 261.50V272.60" stroke="#8e4f2a" stroke-width="2.1" fill="none"/>
<path d="M482.75 240.00H486.75M482.75 272.60H486.75" stroke="#8e4f2a" stroke-width="2.1" fill="none"/>
<rect x="480.60" y="247.10" width="8.30" height="14.40" fill="none" stroke="#8e4f2a" stroke-width="1.8" stroke-linejoin="round" rx="0.5"/>
<path d="M480.60 254.90H488.90" stroke="#8e4f2a" stroke-width="1.8"/>
<path d="M501.16 214.90V222.30M501.16 235.00V244.70" stroke="#8e4f2a" stroke-width="2.1" fill="none"/>
<path d="M499.16 214.90H503.16M499.16 244.70H503.16" stroke="#8e4f2a" stroke-width="2.1" fill="none"/>
<rect x="497.01" y="222.30" width="8.30" height="12.70" fill="none" stroke="#8e4f2a" stroke-width="1.8" stroke-linejoin="round" rx="0.5"/>
<path d="M497.01 228.30H505.31" stroke="#8e4f2a" stroke-width="1.8"/>
<path d="M517.26 232.60V239.50M517.26 253.60V263.30" stroke="#8e4f2a" stroke-width="2.1" fill="none"/>
<path d="M515.26 232.60H519.26M515.26 263.30H519.26" stroke="#8e4f2a" stroke-width="2.1" fill="none"/>
<rect x="513.11" y="239.50" width="8.30" height="14.10" fill="none" stroke="#8e4f2a" stroke-width="1.8" stroke-linejoin="round" rx="0.5"/>
<path d="M513.11 246.20H521.41" stroke="#8e4f2a" stroke-width="1.8"/>
<path d="M533.66 229.80V236.30M533.66 250.70V261.10" stroke="#8e4f2a" stroke-width="2.1" fill="none"/>
<path d="M531.66 229.80H535.66M531.66 261.10H535.66" stroke="#8e4f2a" stroke-width="2.1" fill="none"/>
<rect x="529.51" y="236.30" width="8.30" height="14.40" fill="none" stroke="#8e4f2a" stroke-width="1.8" stroke-linejoin="round" rx="0.5"/>
<path d="M529.51 243.80H537.81" stroke="#8e4f2a" stroke-width="1.8"/>
<path d="M549.76 247.50V254.60M549.76 270.40V281.90" stroke="#8e4f2a" stroke-width="2.1" fill="none"/>
<path d="M547.76 247.50H551.76M547.76 281.90H551.76" stroke="#8e4f2a" stroke-width="2.1" fill="none"/>
<rect x="545.61" y="254.60" width="8.30" height="15.80" fill="none" stroke="#8e4f2a" stroke-width="1.8" stroke-linejoin="round" rx="0.5"/>
<path d="M545.61 262.40H553.91" stroke="#8e4f2a" stroke-width="1.8"/>
<path d="M566.17 224.60V231.30M566.17 243.80V253.60" stroke="#8e4f2a" stroke-width="2.1" fill="none"/>
<path d="M564.17 224.60H568.17M564.17 253.60H568.17" stroke="#8e4f2a" stroke-width="2.1" fill="none"/>
<rect x="562.02" y="231.30" width="8.30" height="12.50" fill="none" stroke="#8e4f2a" stroke-width="1.8" stroke-linejoin="round" rx="0.5"/>
<path d="M562.02 237.80H570.32" stroke="#8e4f2a" stroke-width="1.8"/>
<path d="M582.27 250.30V256.80M582.27 272.30V283.80" stroke="#8e4f2a" stroke-width="2.1" fill="none"/>
<path d="M580.27 250.30H584.27M580.27 283.80H584.27" stroke="#8e4f2a" stroke-width="2.1" fill="none"/>
<rect x="578.12" y="256.80" width="8.30" height="15.50" fill="none" stroke="#8e4f2a" stroke-width="1.8" stroke-linejoin="round" rx="0.5"/>
<path d="M578.12 264.20H586.42" stroke="#8e4f2a" stroke-width="1.8"/>
<path d="M598.67 229.40V236.90M598.67 251.20V262.80" stroke="#8e4f2a" stroke-width="2.1" fill="none"/>
<path d="M596.67 229.40H600.67M596.67 262.80H600.67" stroke="#8e4f2a" stroke-width="2.1" fill="none"/>
<rect x="594.52" y="236.90" width="8.30" height="14.30" fill="none" stroke="#8e4f2a" stroke-width="1.8" stroke-linejoin="round" rx="0.5"/>
<path d="M594.52 244.70H602.82" stroke="#8e4f2a" stroke-width="1.8"/>
<path d="M614.77 248.80V255.90M614.77 271.10V282.90" stroke="#8e4f2a" stroke-width="2.1" fill="none"/>
<path d="M612.77 248.80H616.77M612.77 282.90H616.77" stroke="#8e4f2a" stroke-width="2.1" fill="none"/>
<rect x="610.62" y="255.90" width="8.30" height="15.20" fill="none" stroke="#8e4f2a" stroke-width="1.8" stroke-linejoin="round" rx="0.5"/>
<path d="M610.62 262.90H618.92" stroke="#8e4f2a" stroke-width="1.8"/>
<path d="M631.18 234.80V245.30M631.18 262.40V272.30" stroke="#000000" stroke-width="2.1" fill="none"/>
<path d="M629.18 234.80H633.18M629.18 272.30H633.18" stroke="#000000" stroke-width="2.1" fill="none"/>
<rect x="627.03" y="245.30" width="8.30" height="17.10" fill="none" stroke="#000000" stroke-width="1.8" stroke-linejoin="round" rx="0.5"/>
<path d="M627.03 253.60H635.33" stroke="#000000" stroke-width="1.8"/>
<path d="M647.28 228.90V236.30M647.28 251.20V260.00" stroke="#000000" stroke-width="2.1" fill="none"/>
<path d="M645.28 228.90H649.28M645.28 260.00H649.28" stroke="#000000" stroke-width="2.1" fill="none"/>
<rect x="643.13" y="236.30" width="8.30" height="14.90" fill="none" stroke="#000000" stroke-width="1.8" stroke-linejoin="round" rx="0.5"/>
<path d="M643.13 244.10H651.43" stroke="#000000" stroke-width="1.8"/>
<path d="M663.68 269.60V274.90M663.68 285.80V297.00" stroke="#000000" stroke-width="2.1" fill="none"/>
<path d="M661.68 269.60H665.68M661.68 297.00H665.68" stroke="#000000" stroke-width="2.1" fill="none"/>
<rect x="659.53" y="274.90" width="8.30" height="10.90" fill="none" stroke="#000000" stroke-width="1.8" stroke-linejoin="round" rx="0.5"/>
<path d="M659.53 279.80H667.83" stroke="#000000" stroke-width="1.8"/>
<path d="M679.78 263.70V269.60M679.78 283.90V296.20" stroke="#000000" stroke-width="2.1" fill="none"/>
<path d="M677.78 263.70H681.78M677.78 296.20H681.78" stroke="#000000" stroke-width="2.1" fill="none"/>
<rect x="675.63" y="269.60" width="8.30" height="14.30" fill="none" stroke="#000000" stroke-width="1.8" stroke-linejoin="round" rx="0.5"/>
<path d="M675.63 277.20H683.93" stroke="#000000" stroke-width="1.8"/>
<path d="M696.18 244.00V252.30M696.18 266.00V278.00" stroke="#000000" stroke-width="2.1" fill="none"/>
<path d="M694.18 244.00H698.18M694.18 278.00H698.18" stroke="#000000" stroke-width="2.1" fill="none"/>
<rect x="692.03" y="252.30" width="8.30" height="13.70" fill="none" stroke="#000000" stroke-width="1.8" stroke-linejoin="round" rx="0.5"/>
<path d="M692.03 259.00H700.33" stroke="#000000" stroke-width="1.8"/>
<path d="M712.28 258.20V265.60M712.28 280.30V293.40" stroke="#000000" stroke-width="2.1" fill="none"/>
<path d="M710.28 258.20H714.28M710.28 293.40H714.28" stroke="#000000" stroke-width="2.1" fill="none"/>
<rect x="708.13" y="265.60" width="8.30" height="14.70" fill="none" stroke="#000000" stroke-width="1.8" stroke-linejoin="round" rx="0.5"/>
<path d="M708.13 272.50H716.43" stroke="#000000" stroke-width="1.8"/>
<path d="M728.69 238.00V245.40M728.69 259.00V269.60" stroke="#000000" stroke-width="2.1" fill="none"/>
<path d="M726.69 238.00H730.69M726.69 269.60H730.69" stroke="#000000" stroke-width="2.1" fill="none"/>
<rect x="724.54" y="245.40" width="8.30" height="13.60" fill="none" stroke="#000000" stroke-width="1.8" stroke-linejoin="round" rx="0.5"/>
<path d="M724.54 250.60H732.84" stroke="#000000" stroke-width="1.8"/>
<path d="M744.79 250.60V258.20M744.79 272.00V283.90" stroke="#000000" stroke-width="2.1" fill="none"/>
<path d="M742.79 250.60H746.79M742.79 283.90H746.79" stroke="#000000" stroke-width="2.1" fill="none"/>
<rect x="740.64" y="258.20" width="8.30" height="13.80" fill="none" stroke="#000000" stroke-width="1.8" stroke-linejoin="round" rx="0.5"/>
<path d="M740.64 264.90H748.94" stroke="#000000" stroke-width="1.8"/>
<path d="M761.19 245.90V252.30M761.19 265.60V276.80" stroke="#000000" stroke-width="2.1" fill="none"/>
<path d="M759.19 245.90H763.19M759.19 276.80H763.19" stroke="#000000" stroke-width="2.1" fill="none"/>
<rect x="757.04" y="252.30" width="8.30" height="13.30" fill="none" stroke="#000000" stroke-width="1.8" stroke-linejoin="round" rx="0.5"/>
<path d="M757.04 259.00H765.34" stroke="#000000" stroke-width="1.8"/>
<path d="M777.29 238.80V245.90M777.29 260.10V271.30" stroke="#000000" stroke-width="2.1" fill="none"/>
<path d="M775.29 238.80H779.29M775.29 271.30H779.29" stroke="#000000" stroke-width="2.1" fill="none"/>
<rect x="773.14" y="245.90" width="8.30" height="14.20" fill="none" stroke="#000000" stroke-width="1.8" stroke-linejoin="round" rx="0.5"/>
<path d="M773.14 252.50H781.44" stroke="#000000" stroke-width="1.8"/>
<path d="M793.70 246.40V254.70M793.70 267.30V278.40" stroke="#000000" stroke-width="2.1" fill="none"/>
<path d="M791.70 246.40H795.70M791.70 278.40H795.70" stroke="#000000" stroke-width="2.1" fill="none"/>
<rect x="789.55" y="254.70" width="8.30" height="12.60" fill="none" stroke="#000000" stroke-width="1.8" stroke-linejoin="round" rx="0.5"/>
<path d="M789.55 260.10H797.85" stroke="#000000" stroke-width="1.8"/>
<path d="M809.80 245.20V252.30M809.80 266.00V277.20" stroke="#000000" stroke-width="2.1" fill="none"/>
<path d="M807.80 245.20H811.80M807.80 277.20H811.80" stroke="#000000" stroke-width="2.1" fill="none"/>
<rect x="805.65" y="252.30" width="8.30" height="13.70" fill="none" stroke="#000000" stroke-width="1.8" stroke-linejoin="round" rx="0.5"/>
<path d="M805.65 259.00H813.95" stroke="#000000" stroke-width="1.8"/>
<text x="34.80" y="180.22" text-anchor="end" font-size="9.9" fill="#262626" stroke="#262626" stroke-width="0.3">40</text>
<text x="34.80" y="210.99" text-anchor="end" font-size="9.9" fill="#262626" stroke="#262626" stroke-width="0.3">30</text>
<text x="34.80" y="241.76" text-anchor="end" font-size="9.9" fill="#262626" stroke="#262626" stroke-width="0.3">20</text>
<text x="34.80" y="272.53" text-anchor="end" font-size="9.9" fill="#262626" stroke="#262626" stroke-width="0.3">10</text>
<text x="34.80" y="303.30" text-anchor="end" font-size="9.9" fill="#262626" stroke="#262626" stroke-width="0.3">0</text>
<text transform="translate(15.80 238.40) rotate(-90)" text-anchor="middle" font-size="10.5" fill="#2a2a2a" stroke="#2a2a2a" stroke-width="0.22">Temperature (<tspan font-size="7.35" dy="-3.5">o</tspan><tspan dy="3.5">C)</tspan></text>
<text x="361.9" y="167.8" font-size="12.25" font-weight="bold" fill="#000">Summer temperature CDF</text>
<text x="38.20" y="311.9" font-size="8.0" font-weight="bold" fill="#ff0000">IS–1</text>
<text x="70.70" y="311.9" font-size="8.0" font-weight="bold" fill="#009900">IS–2</text>
<text x="103.21" y="311.9" font-size="8.0" font-weight="bold" fill="#009900">FR–1</text>
<text x="135.71" y="311.9" font-size="8.0" font-weight="bold" fill="#009900">FR–2</text>
<text x="168.22" y="311.9" font-size="8.0" font-weight="bold" fill="#009900">FR–4</text>
<text x="200.72" y="311.9" font-size="8.0" font-weight="bold" fill="#009900">FR–5</text>
<text x="233.23" y="311.9" font-size="8.0" font-weight="bold" fill="#009900">FR–6</text>
<text x="265.73" y="311.9" font-size="8.0" font-weight="bold" fill="#009900">FR–7</text>
<text x="298.23" y="311.9" font-size="8.0" font-weight="bold" fill="#009900">FR–8</text>
<text x="330.74" y="311.9" font-size="8.0" font-weight="bold" fill="#009900">FR–9</text>
<text x="363.24" y="311.9" font-size="8.0" font-weight="bold" fill="#009900">FR–10</text>
<text x="395.75" y="311.9" font-size="8.0" font-weight="bold" fill="#009900">FR–11</text>
<text x="428.25" y="311.9" font-size="8.0" font-weight="bold" fill="#009900">FR–12</text>
<text x="460.75" y="311.9" font-size="8.0" font-weight="bold" fill="#8e4f2a">IT–3</text>
<text x="493.26" y="311.9" font-size="8.0" font-weight="bold" fill="#8e4f2a">IT–6</text>
<text x="525.76" y="311.9" font-size="8.0" font-weight="bold" fill="#8e4f2a">IT–7</text>
<text x="558.27" y="311.9" font-size="8.0" font-weight="bold" fill="#8e4f2a">IT–9</text>
<text x="590.77" y="311.9" font-size="8.0" font-weight="bold" fill="#8e4f2a">IT–10</text>
<text x="623.28" y="311.9" font-size="8.0" font-weight="bold" fill="#000000">FR–3</text>
<text x="655.78" y="311.9" font-size="8.0" font-weight="bold" fill="#000000">IT–1</text>
<text x="688.28" y="311.9" font-size="8.0" font-weight="bold" fill="#000000">IT–2</text>
<text x="720.79" y="311.9" font-size="8.0" font-weight="bold" fill="#000000">IT–4</text>
<text x="753.29" y="311.9" font-size="8.0" font-weight="bold" fill="#000000">IT–5</text>
<text x="785.80" y="311.9" font-size="8.0" font-weight="bold" fill="#000000">IT–8</text>
<path d="M41.02 355.70H398.80" stroke="#383838" stroke-width="1.3" stroke-dasharray="1.35 2.76" fill="none"/>
<path d="M41.02 367.90H398.80" stroke="#383838" stroke-width="1.3" stroke-dasharray="1.35 2.76" fill="none"/>
<path d="M41.02 380.10H398.80" stroke="#383838" stroke-width="1.3" stroke-dasharray="1.35 2.76" fill="none"/>
<path d="M41.02 404.50H398.80" stroke="#383838" stroke-width="1.3" stroke-dasharray="1.35 2.76" fill="none"/>
<path d="M41.02 416.70H398.80" stroke="#383838" stroke-width="1.3" stroke-dasharray="1.35 2.76" fill="none"/>
<path d="M41.02 428.90H398.80" stroke="#383838" stroke-width="1.3" stroke-dasharray="1.35 2.76" fill="none"/>
<path d="M41.02 441.10H398.80" stroke="#383838" stroke-width="1.3" stroke-dasharray="1.35 2.76" fill="none"/>
<path d="M41.02 453.30H398.80" stroke="#383838" stroke-width="1.3" stroke-dasharray="1.35 2.76" fill="none"/>
<path d="M37.90 392.30H399.10" stroke="#7a7a7a" stroke-width="2.2"/>
<path d="M37.90 355.70h2.0M399.10 355.70h-2.0" stroke="#404040" stroke-width="1.6"/>
<path d="M37.90 367.90h2.0M399.10 367.90h-2.0" stroke="#404040" stroke-width="1.6"/>
<path d="M37.90 380.10h2.0M399.10 380.10h-2.0" stroke="#404040" stroke-width="1.6"/>
<path d="M37.90 392.30h2.0M399.10 392.30h-2.0" stroke="#404040" stroke-width="1.6"/>
<path d="M37.90 404.50h2.0M399.10 404.50h-2.0" stroke="#404040" stroke-width="1.6"/>
<path d="M37.90 416.70h2.0M399.10 416.70h-2.0" stroke="#404040" stroke-width="1.6"/>
<path d="M37.90 428.90h2.0M399.10 428.90h-2.0" stroke="#404040" stroke-width="1.6"/>
<path d="M37.90 441.10h2.0M399.10 441.10h-2.0" stroke="#404040" stroke-width="1.6"/>
<path d="M37.90 453.30h2.0M399.10 453.30h-2.0" stroke="#404040" stroke-width="1.6"/>
<path d="M52.95 343.60V466.30M68.00 343.60V466.30M83.05 343.60V466.30M98.10 343.60V466.30M113.15 343.60V466.30M128.20 343.60V466.30M143.25 343.60V466.30M158.30 343.60V466.30M173.35 343.60V466.30M188.40 343.60V466.30M203.45 343.60V466.30M218.50 343.60V466.30M233.55 343.60V466.30M248.60 343.60V466.30M263.65 343.60V466.30M278.70 343.60V466.30M293.75 343.60V466.30M308.80 343.60V466.30M323.85 343.60V466.30M338.90 343.60V466.30M353.95 343.60V466.30M369.00 343.60V466.30M384.05 343.60V466.30" stroke="#404040" stroke-width="2.1"/>
<rect x="37.90" y="343.60" width="361.20" height="122.70" fill="none" stroke="#404040" stroke-width="1.9"/>
<path d="M45.42 386.60V392.70M45.42 400.00V408.00" stroke="#ff0000" stroke-width="2.1" fill="none"/>
<path d="M43.42 386.60H47.42M43.42 408.00H47.42" stroke="#ff0000" stroke-width="2.1" fill="none"/>
<rect x="41.62" y="392.70" width="7.60" height="7.30" fill="none" stroke="#ff0000" stroke-width="2.1" stroke-linejoin="round" rx="0.5"/>
<path d="M41.62 396.50H49.22" stroke="#ff0000" stroke-width="2.1"/>
<path d="M60.48 380.60V385.60M60.48 392.50V398.10" stroke="#009900" stroke-width="2.1" fill="none"/>
<path d="M58.48 380.60H62.48M58.48 398.10H62.48" stroke="#009900" stroke-width="2.1" fill="none"/>
<rect x="56.68" y="385.60" width="7.60" height="6.90" fill="none" stroke="#009900" stroke-width="2.1" stroke-linejoin="round" rx="0.5"/>
<path d="M56.68 388.80H64.28" stroke="#009900" stroke-width="2.1"/>
<path d="M75.53 388.80V398.10M75.53 409.90V429.00" stroke="#009900" stroke-width="2.1" fill="none"/>
<path d="M73.53 388.80H77.53M73.53 429.00H77.53" stroke="#009900" stroke-width="2.1" fill="none"/>
<rect x="71.73" y="398.10" width="7.60" height="11.80" fill="none" stroke="#009900" stroke-width="2.1" stroke-linejoin="round" rx="0.5"/>
<path d="M71.73 404.30H79.33" stroke="#009900" stroke-width="2.1"/>
<path d="M90.58 378.80V383.20M90.58 394.00V404.80" stroke="#009900" stroke-width="2.1" fill="none"/>
<path d="M88.58 378.80H92.58M88.58 404.80H92.58" stroke="#009900" stroke-width="2.1" fill="none"/>
<rect x="86.78" y="383.20" width="7.60" height="10.80" fill="none" stroke="#009900" stroke-width="2.1" stroke-linejoin="round" rx="0.5"/>
<path d="M86.78 388.10H94.38" stroke="#009900" stroke-width="2.1"/>
<path d="M105.62 386.00V392.20M105.62 399.30V404.30" stroke="#009900" stroke-width="2.1" fill="none"/>
<path d="M103.62 386.00H107.62M103.62 404.30H107.62" stroke="#009900" stroke-width="2.1" fill="none"/>
<rect x="101.83" y="392.20" width="7.60" height="7.10" fill="none" stroke="#009900" stroke-width="2.1" stroke-linejoin="round" rx="0.5"/>
<path d="M101.83 395.50H109.42" stroke="#009900" stroke-width="2.1"/>
<path d="M120.68 376.90V382.50M120.68 390.70V396.80" stroke="#009900" stroke-width="2.1" fill="none"/>
<path d="M118.68 376.90H122.68M118.68 396.80H122.68" stroke="#009900" stroke-width="2.1" fill="none"/>
<rect x="116.88" y="382.50" width="7.60" height="8.20" fill="none" stroke="#009900" stroke-width="2.1" stroke-linejoin="round" rx="0.5"/>
<path d="M116.88 386.20H124.48" stroke="#009900" stroke-width="2.1"/>
<path d="M135.73 384.70V388.80M135.73 395.00V400.60" stroke="#009900" stroke-width="2.1" fill="none"/>
<path d="M133.73 384.70H137.73M133.73 400.60H137.73" stroke="#009900" stroke-width="2.1" fill="none"/>
<rect x="131.93" y="388.80" width="7.60" height="6.20" fill="none" stroke="#009900" stroke-width="2.1" stroke-linejoin="round" rx="0.5"/>
<path d="M131.93 391.80H139.53" stroke="#009900" stroke-width="2.1"/>
<path d="M150.78 378.80V385.60M150.78 395.50V406.50" stroke="#009900" stroke-width="2.1" fill="none"/>
<path d="M148.78 378.80H152.78M148.78 406.50H152.78" stroke="#009900" stroke-width="2.1" fill="none"/>
<rect x="146.97" y="385.60" width="7.60" height="9.90" fill="none" stroke="#009900" stroke-width="2.1" stroke-linejoin="round" rx="0.5"/>
<path d="M146.97 391.80H154.58" stroke="#009900" stroke-width="2.1"/>
<path d="M165.83 381.90V387.50M165.83 394.40V399.30" stroke="#009900" stroke-width="2.1" fill="none"/>
<path d="M163.83 381.90H167.83M163.83 399.30H167.83" stroke="#009900" stroke-width="2.1" fill="none"/>
<rect x="162.03" y="387.50" width="7.60" height="6.90" fill="none" stroke="#009900" stroke-width="2.1" stroke-linejoin="round" rx="0.5"/>
<path d="M162.03 391.20H169.63" stroke="#009900" stroke-width="2.1"/>
<path d="M180.88 384.70V388.80M180.88 395.90V400.60" stroke="#009900" stroke-width="2.1" fill="none"/>
<path d="M178.88 384.70H182.88M178.88 400.60H182.88" stroke="#009900" stroke-width="2.1" fill="none"/>
<rect x="177.08" y="388.80" width="7.60" height="7.10" fill="none" stroke="#009900" stroke-width="2.1" stroke-linejoin="round" rx="0.5"/>
<path d="M177.08 392.20H184.68" stroke="#009900" stroke-width="2.1"/>
<path d="M195.93 380.40V385.60M195.93 393.10V398.10" stroke="#009900" stroke-width="2.1" fill="none"/>
<path d="M193.93 380.40H197.93M193.93 398.10H197.93" stroke="#009900" stroke-width="2.1" fill="none"/>
<rect x="192.13" y="385.60" width="7.60" height="7.50" fill="none" stroke="#009900" stroke-width="2.1" stroke-linejoin="round" rx="0.5"/>
<path d="M192.13 388.80H199.73" stroke="#009900" stroke-width="2.1"/>
<path d="M210.98 378.80V384.20M210.98 392.50V398.10" stroke="#009900" stroke-width="2.1" fill="none"/>
<path d="M208.98 378.80H212.98M208.98 398.10H212.98" stroke="#009900" stroke-width="2.1" fill="none"/>
<rect x="207.18" y="384.20" width="7.60" height="8.30" fill="none" stroke="#009900" stroke-width="2.1" stroke-linejoin="round" rx="0.5"/>
<path d="M207.18 387.50H214.78" stroke="#009900" stroke-width="2.1"/>
<path d="M226.03 380.20V386.80M226.03 396.60V404.10" stroke="#009900" stroke-width="2.1" fill="none"/>
<path d="M224.03 380.20H228.03M224.03 404.10H228.03" stroke="#009900" stroke-width="2.1" fill="none"/>
<rect x="222.23" y="386.80" width="7.60" height="9.80" fill="none" stroke="#009900" stroke-width="2.1" stroke-linejoin="round" rx="0.5"/>
<path d="M222.23 391.50H229.83" stroke="#009900" stroke-width="2.1"/>
<path d="M241.08 397.70V407.00M241.08 424.40V435.00" stroke="#8e4f2a" stroke-width="2.1" fill="none"/>
<path d="M239.08 397.70H243.08M239.08 435.00H243.08" stroke="#8e4f2a" stroke-width="2.1" fill="none"/>
<rect x="237.28" y="407.00" width="7.60" height="17.40" fill="none" stroke="#8e4f2a" stroke-width="2.1" stroke-linejoin="round" rx="0.5"/>
<path d="M237.28 415.60H244.88" stroke="#8e4f2a" stroke-width="2.1"/>
<path d="M256.12 396.80V405.20M256.12 421.60V436.10" stroke="#8e4f2a" stroke-width="2.1" fill="none"/>
<path d="M254.12 396.80H258.12M254.12 436.10H258.12" stroke="#8e4f2a" stroke-width="2.1" fill="none"/>
<rect x="252.32" y="405.20" width="7.60" height="16.40" fill="none" stroke="#8e4f2a" stroke-width="2.1" stroke-linejoin="round" rx="0.5"/>
<path d="M252.32 411.30H259.93" stroke="#8e4f2a" stroke-width="2.1"/>
<path d="M271.18 378.70V394.20M271.18 415.60V429.00" stroke="#8e4f2a" stroke-width="2.1" fill="none"/>
<path d="M269.18 378.70H273.18M269.18 429.00H273.18" stroke="#8e4f2a" stroke-width="2.1" fill="none"/>
<rect x="267.38" y="394.20" width="7.60" height="21.40" fill="none" stroke="#8e4f2a" stroke-width="2.1" stroke-linejoin="round" rx="0.5"/>
<path d="M267.38 406.70H274.98" stroke="#8e4f2a" stroke-width="2.1"/>
<path d="M286.23 397.70V412.30M286.23 437.40V451.40" stroke="#8e4f2a" stroke-width="2.1" fill="none"/>
<path d="M284.23 397.70H288.23M284.23 451.40H288.23" stroke="#8e4f2a" stroke-width="2.1" fill="none"/>
<rect x="282.43" y="412.30" width="7.60" height="25.10" fill="none" stroke="#8e4f2a" stroke-width="2.1" stroke-linejoin="round" rx="0.5"/>
<path d="M282.43 425.30H290.03" stroke="#8e4f2a" stroke-width="2.1"/>
<path d="M301.28 386.20V402.90M301.28 422.50V432.40" stroke="#8e4f2a" stroke-width="2.1" fill="none"/>
<path d="M299.28 386.20H303.28M299.28 432.40H303.28" stroke="#8e4f2a" stroke-width="2.1" fill="none"/>
<rect x="297.48" y="402.90" width="7.60" height="19.60" fill="none" stroke="#8e4f2a" stroke-width="2.1" stroke-linejoin="round" rx="0.5"/>
<path d="M297.48 414.10H305.08" stroke="#8e4f2a" stroke-width="2.1"/>
<path d="M316.33 366.40V373.90M316.33 385.10V400.50" stroke="#000000" stroke-width="2.1" fill="none"/>
<path d="M314.33 366.40H318.33M314.33 400.50H318.33" stroke="#000000" stroke-width="2.1" fill="none"/>
<rect x="312.53" y="373.90" width="7.60" height="11.20" fill="none" stroke="#000000" stroke-width="2.1" stroke-linejoin="round" rx="0.5"/>
<path d="M312.53 378.20H320.13" stroke="#000000" stroke-width="2.1"/>
<path d="M331.38 376.90V383.80M331.38 393.60V404.20" stroke="#000000" stroke-width="2.1" fill="none"/>
<path d="M329.38 376.90H333.38M329.38 404.20H333.38" stroke="#000000" stroke-width="2.1" fill="none"/>
<rect x="327.57" y="383.80" width="7.60" height="9.80" fill="none" stroke="#000000" stroke-width="2.1" stroke-linejoin="round" rx="0.5"/>
<path d="M327.57 388.80H335.18" stroke="#000000" stroke-width="2.1"/>
<path d="M346.43 398.70V405.70M346.43 416.40V424.70" stroke="#000000" stroke-width="2.1" fill="none"/>
<path d="M344.43 398.70H348.43M344.43 424.70H348.43" stroke="#000000" stroke-width="2.1" fill="none"/>
<rect x="342.62" y="405.70" width="7.60" height="10.70" fill="none" stroke="#000000" stroke-width="2.1" stroke-linejoin="round" rx="0.5"/>
<path d="M342.62 410.80H350.23" stroke="#000000" stroke-width="2.1"/>
<path d="M361.48 376.70V390.30M361.48 406.10V415.40" stroke="#000000" stroke-width="2.1" fill="none"/>
<path d="M359.48 376.70H363.48M359.48 415.40H363.48" stroke="#000000" stroke-width="2.1" fill="none"/>
<rect x="357.68" y="390.30" width="7.60" height="15.80" fill="none" stroke="#000000" stroke-width="2.1" stroke-linejoin="round" rx="0.5"/>
<path d="M357.68 398.70H365.28" stroke="#000000" stroke-width="2.1"/>
<path d="M376.53 352.70V374.50M376.53 390.30V400.50" stroke="#000000" stroke-width="2.1" fill="none"/>
<path d="M374.53 352.70H378.53M374.53 400.50H378.53" stroke="#000000" stroke-width="2.1" fill="none"/>
<rect x="372.73" y="374.50" width="7.60" height="15.80" fill="none" stroke="#000000" stroke-width="2.1" stroke-linejoin="round" rx="0.5"/>
<path d="M372.73 382.50H380.33" stroke="#000000" stroke-width="2.1"/>
<path d="M391.58 367.00V374.50M391.58 388.80V398.10" stroke="#000000" stroke-width="2.1" fill="none"/>
<path d="M389.58 367.00H393.58M389.58 398.10H393.58" stroke="#000000" stroke-width="2.1" fill="none"/>
<rect x="387.78" y="374.50" width="7.60" height="14.30" fill="none" stroke="#000000" stroke-width="2.1" stroke-linejoin="round" rx="0.5"/>
<path d="M387.78 382.50H395.38" stroke="#000000" stroke-width="2.1"/>
<text x="34.70" y="347.50" text-anchor="end" font-size="9.9" fill="#262626" stroke="#262626" stroke-width="0.3">10</text>
<text x="34.70" y="371.90" text-anchor="end" font-size="9.9" fill="#262626" stroke="#262626" stroke-width="0.3">5</text>
<text x="34.70" y="396.30" text-anchor="end" font-size="9.9" fill="#262626" stroke="#262626" stroke-width="0.3">0</text>
<text x="34.70" y="420.70" text-anchor="end" font-size="9.9" fill="#262626" stroke="#262626" stroke-width="0.3">−5</text>
<text x="34.70" y="445.10" text-anchor="end" font-size="9.9" fill="#262626" stroke="#262626" stroke-width="0.3">−10</text>
<text x="34.70" y="469.50" text-anchor="end" font-size="9.9" fill="#262626" stroke="#262626" stroke-width="0.3">−15</text>
<text transform="translate(9.90 403.00) rotate(-90)" text-anchor="middle" font-size="10.4" fill="#2a2a2a" stroke="#2a2a2a" stroke-width="0.22">Temperature (<tspan font-size="7.28" dy="-3.5">o</tspan><tspan dy="3.5">C)</tspan></text>
<text x="38.00" y="473.9" font-size="6.1" font-weight="bold" fill="#ff0000">IS–1</text>
<text x="53.05" y="481.5" font-size="6.1" font-weight="bold" fill="#009900">IS–2</text>
<text x="68.10" y="473.9" font-size="6.1" font-weight="bold" fill="#009900">FR–1</text>
<text x="83.15" y="481.5" font-size="6.1" font-weight="bold" fill="#009900">FR–2</text>
<text x="98.20" y="473.9" font-size="6.1" font-weight="bold" fill="#009900">FR–4</text>
<text x="113.25" y="481.5" font-size="6.1" font-weight="bold" fill="#009900">FR–5</text>
<text x="128.30" y="473.9" font-size="6.1" font-weight="bold" fill="#009900">FR–6</text>
<text x="143.35" y="481.5" font-size="6.1" font-weight="bold" fill="#009900">FR–7</text>
<text x="158.40" y="473.9" font-size="6.1" font-weight="bold" fill="#009900">FR–8</text>
<text x="173.45" y="481.5" font-size="6.1" font-weight="bold" fill="#009900">FR–9</text>
<text x="188.50" y="473.9" font-size="6.1" font-weight="bold" fill="#009900">FR–10</text>
<text x="203.55" y="481.5" font-size="6.1" font-weight="bold" fill="#009900">FR–11</text>
<text x="218.60" y="473.9" font-size="6.1" font-weight="bold" fill="#009900">FR–12</text>
<text x="233.65" y="481.5" font-size="6.1" font-weight="bold" fill="#8e4f2a">IT–3</text>
<text x="248.70" y="473.9" font-size="6.1" font-weight="bold" fill="#8e4f2a">IT–6</text>
<text x="263.75" y="481.5" font-size="6.1" font-weight="bold" fill="#8e4f2a">IT–7</text>
<text x="278.80" y="473.9" font-size="6.1" font-weight="bold" fill="#8e4f2a">IT–9</text>
<text x="293.85" y="481.5" font-size="6.1" font-weight="bold" fill="#8e4f2a">IT–10</text>
<text x="308.90" y="473.9" font-size="6.1" font-weight="bold" fill="#000000">FR–3</text>
<text x="323.95" y="481.5" font-size="6.1" font-weight="bold" fill="#000000">IT–1</text>
<text x="339.00" y="473.9" font-size="6.1" font-weight="bold" fill="#000000">IT–2</text>
<text x="354.05" y="481.5" font-size="6.1" font-weight="bold" fill="#000000">IT–4</text>
<text x="369.10" y="473.9" font-size="6.1" font-weight="bold" fill="#000000">IT–5</text>
<text x="384.15" y="481.5" font-size="6.1" font-weight="bold" fill="#000000">IT–8</text>
<path d="M459.73 355.70H817.70" stroke="#383838" stroke-width="1.3" stroke-dasharray="1.35 2.76" fill="none"/>
<path d="M459.73 367.90H817.70" stroke="#383838" stroke-width="1.3" stroke-dasharray="1.35 2.76" fill="none"/>
<path d="M459.73 380.10H817.70" stroke="#383838" stroke-width="1.3" stroke-dasharray="1.35 2.76" fill="none"/>
<path d="M459.73 404.50H817.70" stroke="#383838" stroke-width="1.3" stroke-dasharray="1.35 2.76" fill="none"/>
<path d="M459.73 416.70H817.70" stroke="#383838" stroke-width="1.3" stroke-dasharray="1.35 2.76" fill="none"/>
<path d="M459.73 428.90H817.70" stroke="#383838" stroke-width="1.3" stroke-dasharray="1.35 2.76" fill="none"/>
<path d="M459.73 441.10H817.70" stroke="#383838" stroke-width="1.3" stroke-dasharray="1.35 2.76" fill="none"/>
<path d="M459.73 453.30H817.70" stroke="#383838" stroke-width="1.3" stroke-dasharray="1.35 2.76" fill="none"/>
<path d="M457.00 392.30H818.00" stroke="#7a7a7a" stroke-width="2.2"/>
<path d="M457.00 355.70h2.0M818.00 355.70h-2.0" stroke="#404040" stroke-width="1.6"/>
<path d="M457.00 367.90h2.0M818.00 367.90h-2.0" stroke="#404040" stroke-width="1.6"/>
<path d="M457.00 380.10h2.0M818.00 380.10h-2.0" stroke="#404040" stroke-width="1.6"/>
<path d="M457.00 392.30h2.0M818.00 392.30h-2.0" stroke="#404040" stroke-width="1.6"/>
<path d="M457.00 404.50h2.0M818.00 404.50h-2.0" stroke="#404040" stroke-width="1.6"/>
<path d="M457.00 416.70h2.0M818.00 416.70h-2.0" stroke="#404040" stroke-width="1.6"/>
<path d="M457.00 428.90h2.0M818.00 428.90h-2.0" stroke="#404040" stroke-width="1.6"/>
<path d="M457.00 441.10h2.0M818.00 441.10h-2.0" stroke="#404040" stroke-width="1.6"/>
<path d="M457.00 453.30h2.0M818.00 453.30h-2.0" stroke="#404040" stroke-width="1.6"/>
<path d="M472.04 343.60V466.30M487.08 343.60V466.30M502.12 343.60V466.30M517.17 343.60V466.30M532.21 343.60V466.30M547.25 343.60V466.30M562.29 343.60V466.30M577.33 343.60V466.30M592.38 343.60V466.30M607.42 343.60V466.30M622.46 343.60V466.30M637.50 343.60V466.30M652.54 343.60V466.30M667.58 343.60V466.30M682.62 343.60V466.30M697.67 343.60V466.30M712.71 343.60V466.30M727.75 343.60V466.30M742.79 343.60V466.30M757.83 343.60V466.30M772.88 343.60V466.30M787.92 343.60V466.30M802.96 343.60V466.30" stroke="#404040" stroke-width="2.1"/>
<rect x="457.00" y="343.60" width="361.00" height="122.70" fill="none" stroke="#404040" stroke-width="1.9"/>
<path d="M464.52 386.60V393.10M464.52 400.00V403.40" stroke="#ff0000" stroke-width="2.1" fill="none"/>
<path d="M462.52 386.60H466.52M462.52 403.40H466.52" stroke="#ff0000" stroke-width="2.1" fill="none"/>
<rect x="460.72" y="393.10" width="7.60" height="6.90" fill="none" stroke="#ff0000" stroke-width="2.1" stroke-linejoin="round" rx="0.5"/>
<path d="M460.72 396.30H468.32" stroke="#ff0000" stroke-width="2.1"/>
<path d="M479.56 376.90V381.40M479.56 388.80V392.20" stroke="#009900" stroke-width="2.1" fill="none"/>
<path d="M477.56 376.90H481.56M477.56 392.20H481.56" stroke="#009900" stroke-width="2.1" fill="none"/>
<rect x="475.76" y="381.40" width="7.60" height="7.40" fill="none" stroke="#009900" stroke-width="2.1" stroke-linejoin="round" rx="0.5"/>
<path d="M475.76 384.30H483.36" stroke="#009900" stroke-width="2.1"/>
<path d="M494.60 393.10V399.30M494.60 408.90V421.00" stroke="#009900" stroke-width="2.1" fill="none"/>
<path d="M492.60 393.10H496.60M492.60 421.00H496.60" stroke="#009900" stroke-width="2.1" fill="none"/>
<rect x="490.80" y="399.30" width="7.60" height="9.60" fill="none" stroke="#009900" stroke-width="2.1" stroke-linejoin="round" rx="0.5"/>
<path d="M490.80 403.40H498.40" stroke="#009900" stroke-width="2.1"/>
<path d="M509.65 377.30V381.90M509.65 388.80V394.00" stroke="#009900" stroke-width="2.1" fill="none"/>
<path d="M507.65 377.30H511.65M507.65 394.00H511.65" stroke="#009900" stroke-width="2.1" fill="none"/>
<rect x="505.85" y="381.90" width="7.60" height="6.90" fill="none" stroke="#009900" stroke-width="2.1" stroke-linejoin="round" rx="0.5"/>
<path d="M505.85 384.70H513.45" stroke="#009900" stroke-width="2.1"/>
<path d="M524.69 387.10V391.80M524.69 398.10V402.40" stroke="#009900" stroke-width="2.1" fill="none"/>
<path d="M522.69 387.10H526.69M522.69 402.40H526.69" stroke="#009900" stroke-width="2.1" fill="none"/>
<rect x="520.89" y="391.80" width="7.60" height="6.30" fill="none" stroke="#009900" stroke-width="2.1" stroke-linejoin="round" rx="0.5"/>
<path d="M520.89 395.00H528.49" stroke="#009900" stroke-width="2.1"/>
<path d="M539.73 375.00V379.50M539.73 386.60V391.80" stroke="#009900" stroke-width="2.1" fill="none"/>
<path d="M537.73 375.00H541.73M537.73 391.80H541.73" stroke="#009900" stroke-width="2.1" fill="none"/>
<rect x="535.93" y="379.50" width="7.60" height="7.10" fill="none" stroke="#009900" stroke-width="2.1" stroke-linejoin="round" rx="0.5"/>
<path d="M535.93 382.90H543.53" stroke="#009900" stroke-width="2.1"/>
<path d="M554.77 384.20V387.50M554.77 393.10V398.70" stroke="#009900" stroke-width="2.1" fill="none"/>
<path d="M552.77 384.20H556.77M552.77 398.70H556.77" stroke="#009900" stroke-width="2.1" fill="none"/>
<rect x="550.97" y="387.50" width="7.60" height="5.60" fill="none" stroke="#009900" stroke-width="2.1" stroke-linejoin="round" rx="0.5"/>
<path d="M550.97 389.90H558.57" stroke="#009900" stroke-width="2.1"/>
<path d="M569.81 378.80V383.20M569.81 391.20V396.30" stroke="#009900" stroke-width="2.1" fill="none"/>
<path d="M567.81 378.80H571.81M567.81 396.30H571.81" stroke="#009900" stroke-width="2.1" fill="none"/>
<rect x="566.01" y="383.20" width="7.60" height="8.00" fill="none" stroke="#009900" stroke-width="2.1" stroke-linejoin="round" rx="0.5"/>
<path d="M566.01 386.60H573.61" stroke="#009900" stroke-width="2.1"/>
<path d="M584.85 382.90V386.60M584.85 393.10V396.30" stroke="#009900" stroke-width="2.1" fill="none"/>
<path d="M582.85 382.90H586.85M582.85 396.30H586.85" stroke="#009900" stroke-width="2.1" fill="none"/>
<rect x="581.05" y="386.60" width="7.60" height="6.50" fill="none" stroke="#009900" stroke-width="2.1" stroke-linejoin="round" rx="0.5"/>
<path d="M581.05 389.40H588.65" stroke="#009900" stroke-width="2.1"/>
<path d="M599.90 384.20V387.50M599.90 393.70V396.80" stroke="#009900" stroke-width="2.1" fill="none"/>
<path d="M597.90 384.20H601.90M597.90 396.80H601.90" stroke="#009900" stroke-width="2.1" fill="none"/>
<rect x="596.10" y="387.50" width="7.60" height="6.20" fill="none" stroke="#009900" stroke-width="2.1" stroke-linejoin="round" rx="0.5"/>
<path d="M596.10 390.30H603.70" stroke="#009900" stroke-width="2.1"/>
<path d="M614.94 377.80V383.20M614.94 390.70V396.30" stroke="#009900" stroke-width="2.1" fill="none"/>
<path d="M612.94 377.80H616.94M612.94 396.30H616.94" stroke="#009900" stroke-width="2.1" fill="none"/>
<rect x="611.14" y="383.20" width="7.60" height="7.50" fill="none" stroke="#009900" stroke-width="2.1" stroke-linejoin="round" rx="0.5"/>
<path d="M611.14 386.60H618.74" stroke="#009900" stroke-width="2.1"/>
<path d="M629.98 381.40V385.60M629.98 392.50V396.80" stroke="#009900" stroke-width="2.1" fill="none"/>
<path d="M627.98 381.40H631.98M627.98 396.80H631.98" stroke="#009900" stroke-width="2.1" fill="none"/>
<rect x="626.18" y="385.60" width="7.60" height="6.90" fill="none" stroke="#009900" stroke-width="2.1" stroke-linejoin="round" rx="0.5"/>
<path d="M626.18 388.80H633.78" stroke="#009900" stroke-width="2.1"/>
<path d="M645.02 382.90V386.60M645.02 393.10V398.10" stroke="#009900" stroke-width="2.1" fill="none"/>
<path d="M643.02 382.90H647.02M643.02 398.10H647.02" stroke="#009900" stroke-width="2.1" fill="none"/>
<rect x="641.22" y="386.60" width="7.60" height="6.50" fill="none" stroke="#009900" stroke-width="2.1" stroke-linejoin="round" rx="0.5"/>
<path d="M641.22 389.90H648.82" stroke="#009900" stroke-width="2.1"/>
<path d="M660.06 413.20V417.50M660.06 425.90V430.60" stroke="#8e4f2a" stroke-width="2.1" fill="none"/>
<path d="M658.06 413.20H662.06M658.06 430.60H662.06" stroke="#8e4f2a" stroke-width="2.1" fill="none"/>
<rect x="656.26" y="417.50" width="7.60" height="8.40" fill="none" stroke="#8e4f2a" stroke-width="2.1" stroke-linejoin="round" rx="0.5"/>
<path d="M656.26 422.20H663.86" stroke="#8e4f2a" stroke-width="2.1"/>
<path d="M675.10 411.90V416.20M675.10 425.90V432.40" stroke="#8e4f2a" stroke-width="2.1" fill="none"/>
<path d="M673.10 411.90H677.10M673.10 432.40H677.10" stroke="#8e4f2a" stroke-width="2.1" fill="none"/>
<rect x="671.30" y="416.20" width="7.60" height="9.70" fill="none" stroke="#8e4f2a" stroke-width="2.1" stroke-linejoin="round" rx="0.5"/>
<path d="M671.30 420.30H678.90" stroke="#8e4f2a" stroke-width="2.1"/>
<path d="M690.15 414.20V418.80M690.15 427.80V432.40" stroke="#8e4f2a" stroke-width="2.1" fill="none"/>
<path d="M688.15 414.20H692.15M688.15 432.40H692.15" stroke="#8e4f2a" stroke-width="2.1" fill="none"/>
<rect x="686.35" y="418.80" width="7.60" height="9.00" fill="none" stroke="#8e4f2a" stroke-width="2.1" stroke-linejoin="round" rx="0.5"/>
<path d="M686.35 423.10H693.95" stroke="#8e4f2a" stroke-width="2.1"/>
<path d="M705.19 426.80V431.10M705.19 440.40V450.10" stroke="#8e4f2a" stroke-width="2.1" fill="none"/>
<path d="M703.19 426.80H707.19M703.19 450.10H707.19" stroke="#8e4f2a" stroke-width="2.1" fill="none"/>
<rect x="701.39" y="431.10" width="7.60" height="9.30" fill="none" stroke="#8e4f2a" stroke-width="2.1" stroke-linejoin="round" rx="0.5"/>
<path d="M701.39 436.10H708.99" stroke="#8e4f2a" stroke-width="2.1"/>
<path d="M720.23 417.00V420.70M720.23 427.40V430.60" stroke="#8e4f2a" stroke-width="2.1" fill="none"/>
<path d="M718.23 417.00H722.23M718.23 430.60H722.23" stroke="#8e4f2a" stroke-width="2.1" fill="none"/>
<rect x="716.43" y="420.70" width="7.60" height="6.70" fill="none" stroke="#8e4f2a" stroke-width="2.1" stroke-linejoin="round" rx="0.5"/>
<path d="M716.43 424.00H724.03" stroke="#8e4f2a" stroke-width="2.1"/>
<path d="M735.27 367.90V373.20M735.27 381.10V384.80" stroke="#000000" stroke-width="2.1" fill="none"/>
<path d="M733.27 367.90H737.27M733.27 384.80H737.27" stroke="#000000" stroke-width="2.1" fill="none"/>
<rect x="731.47" y="373.20" width="7.60" height="7.90" fill="none" stroke="#000000" stroke-width="2.1" stroke-linejoin="round" rx="0.5"/>
<path d="M731.47 377.30H739.07" stroke="#000000" stroke-width="2.1"/>
<path d="M750.31 377.80V382.30M750.31 389.20V394.40" stroke="#000000" stroke-width="2.1" fill="none"/>
<path d="M748.31 377.80H752.31M748.31 394.40H752.31" stroke="#000000" stroke-width="2.1" fill="none"/>
<rect x="746.51" y="382.30" width="7.60" height="6.90" fill="none" stroke="#000000" stroke-width="2.1" stroke-linejoin="round" rx="0.5"/>
<path d="M746.51 385.60H754.11" stroke="#000000" stroke-width="2.1"/>
<path d="M765.35 405.50V410.40M765.35 419.50V425.30" stroke="#000000" stroke-width="2.1" fill="none"/>
<path d="M763.35 405.50H767.35M763.35 425.30H767.35" stroke="#000000" stroke-width="2.1" fill="none"/>
<rect x="761.55" y="410.40" width="7.60" height="9.10" fill="none" stroke="#000000" stroke-width="2.1" stroke-linejoin="round" rx="0.5"/>
<path d="M761.55 414.60H769.15" stroke="#000000" stroke-width="2.1"/>
<path d="M780.40 406.00V409.90M780.40 416.60V421.50" stroke="#000000" stroke-width="2.1" fill="none"/>
<path d="M778.40 406.00H782.40M778.40 421.50H782.40" stroke="#000000" stroke-width="2.1" fill="none"/>
<rect x="776.60" y="409.90" width="7.60" height="6.70" fill="none" stroke="#000000" stroke-width="2.1" stroke-linejoin="round" rx="0.5"/>
<path d="M776.60 412.90H784.20" stroke="#000000" stroke-width="2.1"/>
<path d="M795.44 374.00V379.00M795.44 387.30V392.70" stroke="#000000" stroke-width="2.1" fill="none"/>
<path d="M793.44 374.00H797.44M793.44 392.70H797.44" stroke="#000000" stroke-width="2.1" fill="none"/>
<rect x="791.64" y="379.00" width="7.60" height="8.30" fill="none" stroke="#000000" stroke-width="2.1" stroke-linejoin="round" rx="0.5"/>
<path d="M791.64 383.10H799.24" stroke="#000000" stroke-width="2.1"/>
<path d="M810.48 381.80V386.10M810.48 393.90V399.30" stroke="#000000" stroke-width="2.1" fill="none"/>
<path d="M808.48 381.80H812.48M808.48 399.30H812.48" stroke="#000000" stroke-width="2.1" fill="none"/>
<rect x="806.68" y="386.10" width="7.60" height="7.80" fill="none" stroke="#000000" stroke-width="2.1" stroke-linejoin="round" rx="0.5"/>
<path d="M806.68 389.70H814.28" stroke="#000000" stroke-width="2.1"/>
<text x="453.80" y="347.50" text-anchor="end" font-size="9.9" fill="#262626" stroke="#262626" stroke-width="0.3">10</text>
<text x="453.80" y="371.90" text-anchor="end" font-size="9.9" fill="#262626" stroke="#262626" stroke-width="0.3">5</text>
<text x="453.80" y="396.30" text-anchor="end" font-size="9.9" fill="#262626" stroke="#262626" stroke-width="0.3">0</text>
<text x="453.80" y="420.70" text-anchor="end" font-size="9.9" fill="#262626" stroke="#262626" stroke-width="0.3">−5</text>
<text x="453.80" y="445.10" text-anchor="end" font-size="9.9" fill="#262626" stroke="#262626" stroke-width="0.3">−10</text>
<text x="453.80" y="469.50" text-anchor="end" font-size="9.9" fill="#262626" stroke="#262626" stroke-width="0.3">−15</text>
<text transform="translate(429.00 403.00) rotate(-90)" text-anchor="middle" font-size="10.4" fill="#2a2a2a" stroke="#2a2a2a" stroke-width="0.22">Temperature (<tspan font-size="7.28" dy="-3.5">o</tspan><tspan dy="3.5">C)</tspan></text>
<text x="457.10" y="473.9" font-size="6.1" font-weight="bold" fill="#ff0000">IS–1</text>
<text x="472.14" y="481.5" font-size="6.1" font-weight="bold" fill="#009900">IS–2</text>
<text x="487.18" y="473.9" font-size="6.1" font-weight="bold" fill="#009900">FR–1</text>
<text x="502.23" y="481.5" font-size="6.1" font-weight="bold" fill="#009900">FR–2</text>
<text x="517.27" y="473.9" font-size="6.1" font-weight="bold" fill="#009900">FR–4</text>
<text x="532.31" y="481.5" font-size="6.1" font-weight="bold" fill="#009900">FR–5</text>
<text x="547.35" y="473.9" font-size="6.1" font-weight="bold" fill="#009900">FR–6</text>
<text x="562.39" y="481.5" font-size="6.1" font-weight="bold" fill="#009900">FR–7</text>
<text x="577.43" y="473.9" font-size="6.1" font-weight="bold" fill="#009900">FR–8</text>
<text x="592.48" y="481.5" font-size="6.1" font-weight="bold" fill="#009900">FR–9</text>
<text x="607.52" y="473.9" font-size="6.1" font-weight="bold" fill="#009900">FR–10</text>
<text x="622.56" y="481.5" font-size="6.1" font-weight="bold" fill="#009900">FR–11</text>
<text x="637.60" y="473.9" font-size="6.1" font-weight="bold" fill="#009900">FR–12</text>
<text x="652.64" y="481.5" font-size="6.1" font-weight="bold" fill="#8e4f2a">IT–3</text>
<text x="667.68" y="473.9" font-size="6.1" font-weight="bold" fill="#8e4f2a">IT–6</text>
<text x="682.73" y="481.5" font-size="6.1" font-weight="bold" fill="#8e4f2a">IT–7</text>
<text x="697.77" y="473.9" font-size="6.1" font-weight="bold" fill="#8e4f2a">IT–9</text>
<text x="712.81" y="481.5" font-size="6.1" font-weight="bold" fill="#8e4f2a">IT–10</text>
<text x="727.85" y="473.9" font-size="6.1" font-weight="bold" fill="#000000">FR–3</text>
<text x="742.89" y="481.5" font-size="6.1" font-weight="bold" fill="#000000">IT–1</text>
<text x="757.93" y="473.9" font-size="6.1" font-weight="bold" fill="#000000">IT–2</text>
<text x="772.98" y="481.5" font-size="6.1" font-weight="bold" fill="#000000">IT–4</text>
<text x="788.02" y="473.9" font-size="6.1" font-weight="bold" fill="#000000">IT–5</text>
<text x="803.06" y="481.5" font-size="6.1" font-weight="bold" fill="#000000">IT–8</text>
<text x="144.9" y="334.3" font-size="12.25" font-weight="bold" fill="#000">Winter temperature bias CDF</text>
<text x="557.4" y="334.3" font-size="12.25" font-weight="bold" fill="#000">Summer temperature bias CDF</text>
<text transform="translate(344.07 13.58) scale(0.85 1)" font-size="18.2" fill="#000">(</text>
<text transform="translate(360.95 13.58) scale(0.85 1)" font-size="18.2" fill="#000">)</text>
<text transform="translate(349.80 13.70) scale(1.0 1)" font-size="17.8" fill="#000">a</text>
<text transform="translate(336.27 168.78) scale(0.85 1)" font-size="18.2" fill="#000">(</text>
<text transform="translate(353.25 168.78) scale(0.85 1)" font-size="18.2" fill="#000">)</text>
<text transform="translate(341.95 168.40) scale(1.12 1)" font-size="17.2" fill="#000">b</text>
<text transform="translate(121.07 333.98) scale(0.85 1)" font-size="18.2" fill="#000">(</text>
<text transform="translate(136.75 333.98) scale(0.85 1)" font-size="18.2" fill="#000">)</text>
<text transform="translate(126.40 334.60) scale(0.97 1)" font-size="13.6" fill="#000">C</text>
<text transform="translate(532.87 334.28) scale(0.85 1)" font-size="18.2" fill="#000">(</text>
<text transform="translate(549.45 334.28) scale(0.85 1)" font-size="18.2" fill="#000">)</text>
<text transform="translate(538.85 334.50) scale(1.07 1)" font-size="17.7" fill="#000">d</text>
</svg>
</body></html>
